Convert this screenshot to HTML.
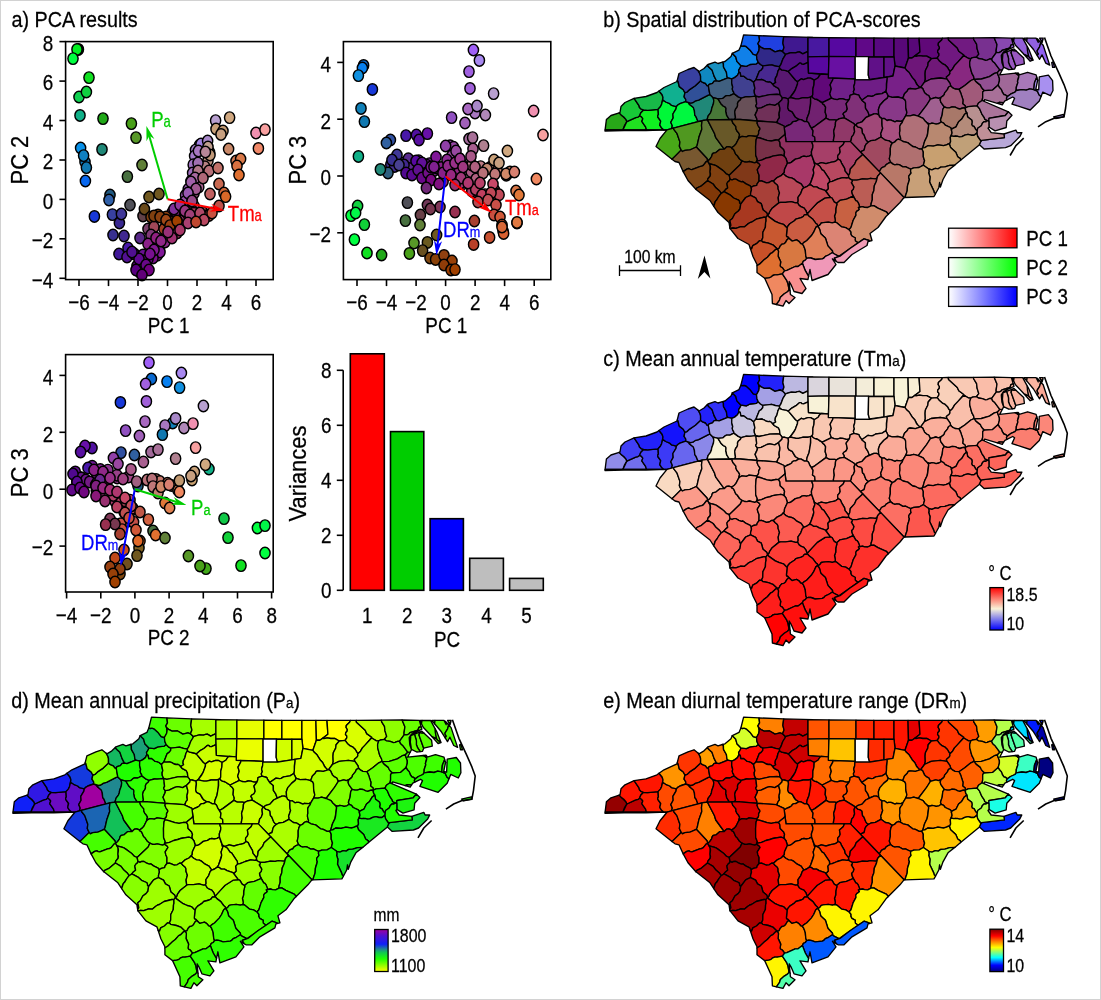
<!DOCTYPE html>
<html><head><meta charset="utf-8"><title>PCA climate figure</title>
<style>html,body{margin:0;padding:0;background:#fff}svg{display:block;will-change:transform}</style></head>
<body>
<svg width="1101" height="1000" viewBox="0 0 1101 1000" font-family="'Liberation Sans', sans-serif">
<rect x="0" y="0" width="1101" height="1000" fill="#fff"/>
<rect x="0.5" y="0.5" width="1100" height="999" fill="none" stroke="#d2d2d2" stroke-width="1"/>
<defs>
<linearGradient id="gR" x1="0" x2="1" y1="0" y2="0"><stop offset="0" stop-color="#fff"/><stop offset="1" stop-color="#ff0000"/></linearGradient>
<linearGradient id="gG" x1="0" x2="1" y1="0" y2="0"><stop offset="0" stop-color="#fff"/><stop offset="1" stop-color="#00ff00"/></linearGradient>
<linearGradient id="gB" x1="0" x2="1" y1="0" y2="0"><stop offset="0" stop-color="#fff"/><stop offset="1" stop-color="#0000ff"/></linearGradient>
<linearGradient id="gC" x1="0" x2="0" y1="1" y2="0"><stop offset="0" stop-color="#0000ff"/><stop offset="0.5" stop-color="#f8f2d8"/><stop offset="1" stop-color="#ff0000"/></linearGradient>
<linearGradient id="gD" x1="0" x2="0" y1="1" y2="0"><stop offset="0" stop-color="#ffff00"/><stop offset="0.3" stop-color="#20ff00"/><stop offset="0.45" stop-color="#10c850"/><stop offset="0.53" stop-color="#208890"/><stop offset="0.65" stop-color="#1020f8"/><stop offset="0.85" stop-color="#5010d0"/><stop offset="1" stop-color="#a000a0"/></linearGradient>
<linearGradient id="gE" x1="0" x2="0" y1="1" y2="0"><stop offset="0" stop-color="#000080"/><stop offset="0.15" stop-color="#0000ff"/><stop offset="0.33" stop-color="#00ffff"/><stop offset="0.45" stop-color="#80ff80"/><stop offset="0.57" stop-color="#ffff00"/><stop offset="0.71" stop-color="#ff8000"/><stop offset="0.84" stop-color="#ff0000"/><stop offset="1" stop-color="#800000"/></linearGradient>
<path id="k0" d="M624.6,125.3L626.8,121.7L626.1,119.6L619.2,112.8L611.0,115.5L606.4,119.5L605.1,129.9L622.9,129.9Z"/>
<path id="k1" d="M626.8,121.7L622.9,129.9L646.5,129.9L645.6,126.9L641.8,121.4L642.8,118.7L641.5,116.9L639.7,115.7L638.0,117.1L635.7,117.6Z"/>
<path id="k2" d="M623.8,117.0L626.1,119.6L626.8,121.7L635.7,117.6L638.0,117.1L639.7,115.7L640.7,113.0L643.6,110.0L641.1,109.1L639.5,107.5L639.0,105.6L634.1,98.3L625.0,102.5L621.0,106.5L620.0,112.5L619.2,112.8L621.2,115.1Z"/>
<path id="k3" d="M639.7,115.7L641.5,116.9L642.8,118.7L641.8,121.4L645.6,126.9L646.5,129.9L663.9,129.9L661.4,127.7L659.8,125.1L660.7,121.2L657.8,117.0L657.8,115.5L658.4,114.7L658.1,109.3L647.7,110.3L643.6,110.0L640.7,113.0Z"/>
<path id="k4" d="M662.1,94.7L659.0,91.0L657.0,92.5L646.0,96.5L634.1,98.3L639.0,105.6L639.5,107.5L641.1,109.1L643.6,110.0L647.7,110.3L658.1,109.3L660.4,106.8L661.6,104.4L663.0,97.5Z"/>
<path id="k5" d="M672.3,125.8L670.8,122.3L673.2,117.9L672.9,114.0L676.0,108.8L676.4,106.6L671.7,105.4L669.8,103.7L665.8,102.0L662.7,99.9L661.6,104.4L660.4,106.8L658.1,109.3L658.4,114.7L657.8,115.5L657.8,117.0L660.7,121.2L659.8,125.1L661.4,127.7L663.9,129.9L667.0,129.9L671.6,128.6Z"/>
<path id="k6" d="M680.0,103.7L685.8,101.7L685.8,99.5L684.1,96.9L684.9,92.7L683.3,89.7L679.3,86.6L677.9,81.0L677.2,80.6L677.0,81.5L664.0,87.5L659.0,91.0L662.1,94.7L663.0,97.5L662.7,99.9L665.8,102.0L669.8,103.7L671.7,105.4L676.4,106.6L677.8,105.0Z"/>
<path id="k7" d="M694.8,115.2L694.4,110.6L693.4,107.6L689.3,104.2L688.6,102.8L685.8,101.7L680.0,103.7L677.8,105.0L676.4,106.6L676.0,108.8L672.9,114.0L673.2,117.9L670.8,122.3L672.3,125.8L671.6,128.6L698.0,121.6L696.1,116.9Z"/>
<path id="k8" d="M708.2,115.8L710.5,112.8L711.4,110.6L711.7,108.4L713.4,103.8L713.8,100.6L713.2,97.7L709.9,94.6L708.3,95.1L698.6,100.1L695.6,100.8L692.8,102.7L690.6,103.2L688.6,102.8L689.3,104.2L693.4,107.6L694.4,110.6L694.8,115.2L696.1,116.9L698.0,121.6L704.0,120.1L707.0,119.9Z"/>
<path id="k9" d="M708.3,85.7L707.0,85.6L705.6,83.5L702.1,82.1L700.6,80.8L695.3,85.8L689.6,89.6L687.0,92.1L684.9,92.7L684.1,96.9L685.8,99.5L685.8,101.7L690.6,103.2L692.8,102.7L695.6,100.8L698.6,100.1L708.3,95.1L709.9,94.6Z"/>
<path id="k10" d="M679.3,86.6L683.3,89.7L684.9,92.7L687.0,92.1L689.6,89.6L695.3,85.8L700.6,80.8L700.6,76.3L700.1,74.2L698.3,70.9L694.0,67.5L688.0,69.5L679.0,73.5L677.2,80.6L677.9,81.0Z"/>
<path id="k11" d="M700.6,76.3L700.6,80.8L702.1,82.1L705.6,83.5L707.0,85.6L708.3,85.7L709.2,84.4L712.5,83.3L714.2,81.1L716.5,80.8L714.1,76.1L712.0,69.9L708.7,67.0L707.4,65.1L704.0,68.5L699.0,71.5L698.3,70.9L700.1,74.2Z"/>
<path id="k12" d="M712.0,69.9L714.1,76.1L716.5,80.8L719.1,81.4L727.8,77.8L727.0,76.7L726.4,72.2L723.5,67.0L723.4,63.2L722.4,62.2L718.0,63.5L715.0,62.1L708.0,64.5L707.4,65.1L708.7,67.0Z"/>
<path id="k13" d="M739.0,72.2L738.6,70.4L740.5,67.2L740.8,65.5L736.9,61.4L735.8,57.0L732.3,53.3L731.0,56.5L725.0,61.5L722.4,62.2L723.4,63.2L723.5,67.0L726.4,72.2L727.0,76.7L727.8,77.8L731.8,78.9L734.6,77.6L737.5,75.3Z"/>
<path id="k14" d="M712.5,83.3L709.2,84.4L708.3,85.7L709.9,94.6L713.2,97.7L718.0,98.8L722.7,98.4L725.0,96.4L726.6,95.6L729.9,95.7L734.0,93.6L732.3,88.9L732.7,87.0L731.7,83.2L731.8,78.9L727.8,77.8L719.1,81.4L716.5,80.8L714.2,81.1Z"/>
<path id="k15" d="M713.4,103.8L711.7,108.4L711.4,110.6L710.5,112.8L708.2,115.8L707.0,119.9L729.3,119.5L726.6,115.2L726.2,112.3L725.8,111.7L726.0,108.4L725.4,107.2L723.2,106.0L720.9,103.7L718.0,98.8L713.2,97.7L713.8,100.6Z"/>
<path id="k16" d="M734.0,93.6L729.9,95.7L726.6,95.6L725.0,96.4L722.7,98.4L718.0,98.8L720.9,103.7L723.2,106.0L725.4,107.2L726.0,108.4L725.8,111.7L726.2,112.3L726.6,115.2L729.3,119.5L734.7,119.5L735.5,117.6L734.7,111.9L735.6,109.0L737.1,107.1L737.6,105.4L737.5,103.4L738.4,101.5L740.3,99.9L741.3,98.1L738.3,96.9Z"/>
<path id="k17" d="M741.3,98.1L746.4,96.7L752.0,96.9L755.7,96.1L754.4,93.2L754.2,90.5L754.9,88.3L753.6,82.2L751.2,80.2L749.2,79.3L747.3,79.1L743.8,76.2L740.9,76.2L740.2,72.7L739.0,72.2L737.5,75.3L734.6,77.6L731.8,78.9L731.7,83.2L732.7,87.0L732.3,88.9L732.6,90.5L733.6,91.8L734.0,93.6L738.3,96.9Z"/>
<path id="k18" d="M756.0,79.6L759.3,71.3L761.2,70.1L762.8,68.0L762.9,65.8L760.5,64.5L758.2,62.3L756.4,63.8L750.0,64.5L746.3,66.3L740.8,65.5L740.5,67.2L738.6,70.4L739.0,72.2L740.2,72.7L740.9,76.2L743.8,76.2L747.3,79.1L749.2,79.3L751.2,80.2L753.6,82.2Z"/>
<path id="k19" d="M756.5,55.2L753.3,54.3L749.9,49.9L746.1,46.5L744.1,45.9L742.0,46.2L740.9,45.7L739.0,50.1L732.3,53.3L735.8,57.0L736.9,61.4L740.8,65.5L746.3,66.3L750.0,64.5L756.4,63.8L758.2,62.3L756.9,58.9Z"/>
<path id="k20" d="M746.1,46.5L749.9,49.9L753.3,54.3L756.5,55.2L758.8,50.9L759.2,48.3L758.8,45.6L757.9,43.5L759.6,40.5L759.0,35.6L743.6,34.9L740.9,45.7L742.0,46.2L744.1,45.9Z"/>
<path id="k21" d="M759.6,40.5L757.9,43.5L758.8,45.6L761.1,47.4L764.2,48.9L769.7,48.7L775.0,51.9L780.0,50.5L782.6,51.5L784.0,47.6L782.9,43.1L783.7,36.6L759.0,35.6Z"/>
<path id="k22" d="M780.0,50.5L775.0,51.9L769.7,48.7L764.2,48.9L761.1,47.4L758.8,45.6L759.2,48.3L758.8,50.9L756.5,55.2L756.9,58.9L758.2,62.3L760.5,64.5L762.9,65.8L771.6,64.8L777.4,66.6L779.5,66.7L780.9,64.4L782.8,59.2L785.3,55.2L785.4,54.3L782.6,51.5Z"/>
<path id="k23" d="M775.3,66.0L771.6,64.8L762.9,65.8L762.8,68.0L761.2,70.1L759.3,71.3L756.0,79.6L758.7,79.9L761.6,79.5L764.0,80.3L766.1,81.7L768.1,82.2L769.9,82.0L772.9,84.2L774.8,83.2L775.7,82.4L775.1,80.8L775.4,78.2L776.9,75.7L778.0,71.2L779.6,68.4L779.5,66.7Z"/>
<path id="k24" d="M768.1,82.2L766.1,81.7L764.0,80.3L761.6,79.5L758.7,79.9L756.0,79.6L753.6,82.2L754.9,88.3L754.2,90.5L754.4,93.2L755.8,96.2L758.9,97.0L769.8,94.6L776.9,94.2L780.0,94.9L779.5,90.5L778.4,88.4L774.2,86.0L771.2,82.7L769.9,82.0Z"/>
<path id="k25" d="M788.2,98.8L790.1,97.5L795.2,90.2L797.5,83.9L797.6,81.6L795.6,80.2L788.4,71.6L786.1,70.7L781.7,69.9L779.6,68.4L778.0,71.2L776.9,75.7L775.4,78.2L775.1,80.8L775.7,82.4L772.9,84.2L774.2,86.0L778.4,88.4L779.5,90.5L780.0,94.9L782.3,97.8L784.1,97.7Z"/>
<path id="k26" d="M782.9,43.1L784.0,47.6L782.6,51.5L785.4,54.3L791.5,52.6L795.6,52.9L797.6,52.1L799.4,51.9L802.8,53.9L806.9,51.8L808.0,52.0L808.0,37.3L812.7,37.3L783.7,36.6Z"/>
<path id="k27" d="M782.8,59.2L780.9,64.4L779.5,66.7L779.6,68.4L781.7,69.9L786.1,70.7L788.4,71.6L791.8,68.6L796.0,66.2L799.4,63.2L800.9,63.1L801.9,64.2L803.6,64.4L808.1,62.4L808.0,52.0L806.9,51.8L802.8,53.9L799.4,51.9L797.6,52.1L795.6,52.9L791.5,52.6L789.6,53.0L785.4,54.3L785.3,55.2Z"/>
<path id="k28" d="M808.1,62.4L803.6,64.4L801.9,64.2L800.9,63.1L799.4,63.2L796.0,66.2L791.8,68.6L788.4,71.6L795.6,80.2L797.6,81.6L801.4,78.8L803.5,79.6L807.8,78.1L810.6,78.2L814.2,80.2L818.2,77.7L819.7,75.2L821.4,74.0L808.5,73.0Z"/>
<path id="k29" d="M797.5,83.9L795.2,90.2L793.8,92.7L790.1,97.5L796.0,98.8L798.6,98.8L803.2,97.7L808.3,97.7L810.6,97.2L812.0,96.4L812.8,94.8L812.9,88.8L814.0,84.5L814.2,80.2L810.6,78.2L807.8,78.1L803.5,79.6L801.4,78.8L797.6,81.6Z"/>
<path id="k30" d="M749.1,96.9L746.4,96.7L741.3,98.1L740.3,99.9L738.4,101.5L737.5,103.4L737.6,105.4L737.1,107.1L735.6,109.0L734.7,111.9L735.5,117.6L734.7,119.5L740.0,119.5L756.5,120.9L757.0,119.2L755.1,114.9L757.3,110.1L757.4,108.3L756.0,106.6L755.8,105.6L756.7,104.0L756.3,100.4L756.5,98.7L755.8,96.2Z"/>
<path id="k31" d="M755.8,96.2L756.7,104.0L755.8,105.6L756.0,106.6L757.4,108.3L759.0,108.4L761.1,107.9L766.9,105.0L769.8,104.4L774.8,105.3L778.6,103.1L781.9,99.8L782.3,97.8L780.0,94.9L778.1,94.3L769.8,94.6L758.9,97.0Z"/>
<path id="k32" d="M755.1,114.9L757.0,119.2L756.5,120.9L776.0,122.3L776.9,122.7L777.0,121.6L779.4,117.7L779.5,116.7L778.9,115.2L779.9,108.2L778.6,103.1L774.8,105.3L769.8,104.4L766.9,105.0L761.1,107.9L757.4,108.3L757.3,110.1Z"/>
<path id="k33" d="M779.8,110.5L779.1,113.0L779.4,117.7L778.1,119.2L776.9,122.7L784.0,126.0L784.2,127.7L786.7,126.0L789.9,124.7L791.7,123.5L792.4,122.1L797.4,120.7L799.0,119.4L795.6,117.3L794.6,116.3L792.2,111.9L788.7,110.1L787.8,107.7L788.5,101.6L788.2,98.8L784.1,97.7L782.3,97.8L781.9,99.8L778.6,103.1L779.9,108.2Z"/>
<path id="k34" d="M788.5,101.6L787.8,107.7L788.7,110.1L792.2,111.9L795.6,117.3L799.0,119.4L801.2,119.7L804.5,121.6L806.6,121.4L807.1,118.0L809.1,112.9L810.4,105.7L810.6,97.2L808.3,97.7L803.2,97.7L798.6,98.8L796.0,98.8L790.1,97.5L788.2,98.8Z"/>
<path id="k35" d="M810.6,97.2L810.7,103.2L809.1,112.9L807.1,118.0L806.6,121.4L808.4,122.5L810.0,126.2L811.6,128.2L814.9,126.3L826.0,118.1L826.4,115.7L825.2,112.3L825.6,107.1L824.2,104.9L822.6,103.7L822.3,102.7L820.2,101.7L818.4,100.1L814.5,98.8L812.9,97.7L812.0,96.4Z"/>
<path id="k36" d="M814.7,137.0L812.5,135.5L813.1,130.9L810.0,126.2L808.4,122.5L806.6,121.4L804.5,121.6L801.2,119.7L799.0,119.4L795.7,121.4L793.8,121.4L792.4,122.1L791.7,123.5L789.9,124.7L786.7,126.0L784.2,127.7L786.0,141.6L815.1,141.6Z"/>
<path id="k37" d="M808.0,56.8L829.0,56.4L829.0,37.6L808.0,37.3Z"/>
<path id="k38" d="M808.5,73.0L828.5,74.5L829.0,56.4L808.0,56.8Z"/>
<path id="k39" d="M679.4,146.2L679.9,141.9L676.9,133.3L674.0,129.7L673.4,128.1L667.0,129.9L660.0,138.5L656.0,146.5L672.0,159.2L675.7,156.0L681.2,150.1ZM667.0,129.9L605.1,129.9L605.0,131.1L624.0,130.5L646.0,130.5Z"/>
<path id="k40" d="M674.0,129.7L676.9,133.3L679.9,141.9L679.4,146.2L681.2,150.1L682.4,151.5L684.9,150.3L689.9,149.9L692.2,149.1L696.3,147.0L697.2,145.2L699.0,137.1L701.8,129.3L701.5,125.3L702.1,120.6L673.4,128.1Z"/>
<path id="k41" d="M712.4,153.9L713.4,153.1L715.9,152.6L719.6,149.4L724.2,149.2L715.8,137.7L714.4,133.2L707.5,119.9L702.1,120.6L701.5,125.3L701.8,129.3L699.0,137.1L697.2,145.2L696.3,147.0L707.0,158.5L707.8,160.7L709.7,159.4L711.6,156.5Z"/>
<path id="k42" d="M731.7,147.7L734.3,145.8L736.0,143.9L738.6,138.7L739.6,134.8L738.6,132.9L736.8,130.8L735.9,128.6L735.9,126.6L732.7,122.8L731.7,119.5L707.5,119.9L714.4,133.2L715.8,137.7L724.2,149.2L726.5,146.9L728.8,146.6Z"/>
<path id="k43" d="M742.0,136.4L746.4,136.9L749.1,135.6L756.7,136.5L758.2,134.9L758.7,133.3L758.6,131.6L760.0,128.9L757.1,123.2L757.4,121.0L740.0,119.5L731.7,119.5L732.7,122.8L735.9,126.6L735.9,128.6L736.8,130.8L738.6,132.9L739.6,134.8L738.6,138.7L740.0,137.3Z"/>
<path id="k44" d="M759.7,127.8L760.0,128.9L758.6,131.6L758.7,133.3L758.2,134.9L756.7,136.5L757.0,137.5L760.0,138.0L767.0,140.4L771.2,141.0L775.9,140.0L778.7,140.2L779.3,139.2L784.3,135.1L785.0,133.9L784.0,126.0L776.0,122.3L757.4,121.0L757.1,123.2L758.1,125.8Z"/>
<path id="k45" d="M681.2,150.1L672.0,159.2L675.0,161.5L679.0,162.5L683.2,171.6L686.8,169.1L688.9,168.5L690.2,169.3L691.9,169.6L699.7,166.6L701.8,166.2L703.3,165.3L706.3,161.5L707.7,161.3L707.0,158.5L696.3,147.0L689.9,149.9L684.9,150.3L682.4,151.5Z"/>
<path id="k46" d="M714.3,164.9L717.6,166.6L722.8,170.4L726.2,173.8L729.2,175.2L740.3,164.6L742.0,160.9L739.6,159.0L737.2,155.5L735.7,154.2L734.0,150.2L732.9,148.8L731.9,148.6L731.7,147.7L728.8,146.6L726.5,146.9L724.2,149.2L719.6,149.4L715.9,152.6L713.4,153.1L712.4,153.9L711.6,156.5L709.7,159.4L707.8,160.7L707.7,161.3L709.2,163.6Z"/>
<path id="k47" d="M749.4,161.5L754.7,162.8L755.9,162.3L756.9,161.1L757.3,159.3L755.7,155.2L755.6,146.1L756.1,139.8L757.0,137.5L756.7,136.5L749.1,135.6L746.4,136.9L742.0,136.4L740.0,137.3L738.6,138.7L736.0,143.9L734.3,145.8L731.7,147.7L731.9,148.6L732.9,148.8L734.0,150.2L735.7,154.2L737.2,155.5L739.6,159.0L742.0,160.9L744.6,162.0L746.9,162.1Z"/>
<path id="k48" d="M755.6,146.1L755.7,155.2L757.3,159.3L756.9,161.1L761.6,160.1L765.9,158.2L774.9,155.6L780.9,154.8L784.4,156.4L784.2,154.3L784.6,151.9L783.7,149.6L780.2,146.2L779.9,142.4L778.7,140.2L775.9,140.0L771.2,141.0L767.0,140.4L760.0,138.0L757.0,137.5L756.1,139.8Z"/>
<path id="k49" d="M779.3,139.2L778.7,140.2L779.9,142.4L780.2,146.2L783.7,149.6L784.6,151.9L784.2,154.3L784.4,156.4L786.1,158.7L787.4,163.2L789.7,163.0L791.2,162.4L795.4,159.1L799.7,158.1L801.9,156.6L803.9,156.2L806.3,156.7L809.1,156.1L811.6,154.8L811.4,151.7L812.8,147.5L812.9,145.2L811.7,141.6L786.0,141.6L785.0,133.9L784.3,135.1Z"/>
<path id="k50" d="M701.5,185.8L707.5,180.7L707.9,178.8L710.2,176.0L710.2,165.7L707.7,161.3L706.3,161.5L703.3,165.3L701.8,166.2L699.7,166.6L691.9,169.6L690.2,169.3L688.9,168.5L686.8,169.1L683.2,171.6L688.0,180.5L695.9,189.4L696.8,188.0Z"/>
<path id="k51" d="M725.7,189.4L727.7,187.9L726.9,183.5L728.1,181.7L729.5,180.6L730.1,179.1L729.2,175.2L726.2,173.8L723.9,171.2L716.1,165.6L709.2,163.6L710.2,165.7L710.5,167.9L710.0,171.9L710.5,174.0L710.2,176.0L707.9,178.8L707.5,180.7L713.1,184.0L715.9,187.8L719.6,191.0L721.2,193.4L722.7,192.8Z"/>
<path id="k52" d="M736.1,179.2L738.8,180.9L741.4,181.8L742.8,181.5L745.6,183.6L750.2,185.8L751.2,187.3L753.4,186.0L756.8,185.3L757.1,183.9L759.0,181.2L759.1,175.2L757.8,172.1L757.3,169.6L760.1,165.1L758.9,163.4L757.2,162.4L756.9,161.2L755.9,162.3L754.7,162.8L749.4,161.5L746.9,162.1L744.6,162.0L742.0,160.9L740.3,164.6L729.2,175.2L730.1,179.1L732.0,180.0L733.9,179.1Z"/>
<path id="k53" d="M780.9,154.8L772.6,156.2L769.9,157.3L765.9,158.2L761.6,160.1L756.9,161.1L757.2,162.4L758.9,163.4L760.1,165.1L757.3,169.6L757.8,172.1L759.1,175.2L759.0,181.2L761.6,180.9L766.4,182.9L769.2,182.5L771.5,181.0L773.5,181.0L777.1,177.6L781.1,175.7L784.3,172.5L784.5,169.5L787.4,163.2L786.1,158.7L784.4,156.4L782.8,155.4Z"/>
<path id="k54" d="M814.9,164.9L811.6,154.8L809.1,156.1L806.3,156.7L803.9,156.2L801.9,156.6L799.7,158.1L795.4,159.1L791.2,162.4L789.7,163.0L787.4,163.2L784.5,169.5L784.3,172.5L783.2,173.6L786.1,176.2L788.7,177.5L791.5,177.8L793.9,179.1L796.3,181.3L801.1,183.8L803.8,187.8L806.7,186.7L809.4,184.8L810.7,182.7L813.8,172.9L813.2,169.6Z"/>
<path id="k55" d="M714.8,202.3L721.2,193.4L719.6,191.0L715.9,187.8L713.1,184.0L707.5,180.7L701.5,185.8L696.8,188.0L696.0,189.5L710.0,200.5L713.8,206.3Z"/>
<path id="k56" d="M745.7,197.5L750.6,195.3L750.6,193.1L751.5,189.9L751.2,187.3L750.2,185.8L745.6,183.6L742.8,181.5L741.4,181.8L738.8,180.9L736.1,179.2L733.9,179.1L732.0,180.0L730.1,179.1L729.5,180.6L728.1,181.7L726.9,183.5L727.7,187.9L725.7,189.4L724.0,191.6L730.0,194.8L733.6,198.0L738.6,200.2L739.5,201.4L739.6,203.1L740.7,204.2Z"/>
<path id="k57" d="M730.9,225.3L729.9,220.5L732.4,218.5L734.9,213.7L738.1,211.3L740.0,209.0L740.7,204.2L739.6,203.1L739.5,201.4L738.6,200.2L733.6,198.0L730.0,194.8L724.0,191.6L721.2,193.4L718.7,196.5L716.7,200.0L715.4,201.2L713.8,206.3L718.0,212.5L729.0,222.5L729.8,227.5Z"/>
<path id="k58" d="M778.2,197.6L779.5,192.9L778.1,188.9L778.1,186.6L777.2,184.7L775.0,183.0L773.5,181.0L771.5,181.0L769.2,182.5L766.4,182.9L761.6,180.9L759.0,181.2L757.1,183.9L756.8,185.3L753.4,186.0L751.2,187.3L751.5,189.9L750.6,193.1L750.6,195.3L755.6,197.8L757.5,201.6L761.3,203.7L763.0,209.7L766.7,212.7L767.5,215.1L769.2,213.6L769.5,212.1L772.2,208.2L778.8,202.9Z"/>
<path id="k59" d="M798.0,197.3L800.8,193.3L802.3,189.3L803.8,187.8L801.1,183.8L796.3,181.3L793.9,179.1L791.5,177.8L788.7,177.5L786.1,176.2L783.2,173.6L781.1,175.7L777.1,177.6L773.5,181.0L775.0,183.0L777.2,184.7L778.1,186.6L778.1,188.9L779.5,192.9L778.2,197.6L778.8,202.9L780.6,202.3L785.5,202.3L791.1,201.6L795.5,202.9L797.5,202.7L798.2,201.1Z"/>
<path id="k60" d="M766.7,212.7L763.0,209.7L761.3,203.7L757.5,201.6L755.6,197.8L750.6,195.3L748.1,196.3L745.7,197.5L740.7,204.2L740.0,209.0L738.1,211.3L734.9,213.7L732.4,218.5L729.9,220.5L730.9,225.3L729.8,227.5L730.0,228.5L732.9,228.0L735.9,228.4L740.8,226.6L744.3,226.9L747.9,223.9L749.8,222.7L751.5,222.2L756.2,219.2L764.1,217.2L766.0,217.3L767.5,215.1Z"/>
<path id="k61" d="M829.0,56.4L856.0,56.6L856.0,37.9L829.0,37.6Z"/>
<path id="k62" d="M856.0,56.6L874.0,56.8L874.0,38.0L856.0,37.9Z"/>
<path id="k63" d="M874.0,56.8L894.0,57.0L894.0,38.1L874.0,38.0Z"/>
<path id="k64" d="M894.0,57.0L895.0,66.0L905.0,68.0L908.5,58.0L908.1,38.1L894.0,38.1Z"/>
<path id="k65" d="M908.5,58.0L912.0,58.0L920.0,52.0L919.1,38.1L908.0,38.1Z"/>
<path id="k66" d="M916.0,56.4L919.3,55.6L922.9,56.2L926.7,56.1L931.4,58.7L937.2,58.1L938.9,55.5L938.9,53.6L937.6,52.2L937.8,50.5L939.3,48.7L939.4,47.0L938.2,45.2L938.4,43.1L941.7,40.0L942.5,38.1L919.1,38.1L920.0,52.0L914.9,55.9Z"/>
<path id="k67" d="M954.5,65.6L957.6,62.6L963.9,55.0L958.8,51.3L957.3,48.0L948.6,40.0L948.2,38.0L942.5,38.1L941.7,40.0L938.4,43.1L938.2,45.2L939.4,47.0L939.3,48.7L937.8,50.5L937.6,52.2L938.9,53.6L938.9,55.5L937.2,58.1L939.4,61.1L942.3,63.6L945.1,64.9L947.4,67.2L949.0,70.1L950.3,71.2L952.6,68.9Z"/>
<path id="k68" d="M948.6,40.0L957.3,48.0L958.8,51.3L963.9,55.0L963.7,55.7L968.6,58.5L970.8,58.6L972.5,57.7L976.4,57.1L978.8,54.1L977.1,48.6L976.6,44.1L973.8,39.5L973.4,37.9L948.2,38.0Z"/>
<path id="k69" d="M996.1,50.9L997.0,44.5L994.2,37.7L973.4,37.9L973.8,39.5L976.6,44.1L977.1,48.6L978.8,54.1L976.4,57.1L978.4,58.5L982.3,59.1L985.5,60.3L987.2,60.1L989.6,59.0L991.7,58.9L996.4,52.4Z"/>
<path id="k70" d="M1002.0,50.4L1010.1,47.8L1010.9,45.2L1013.2,44.3L1011.4,38.1L994.2,37.7L997.0,44.5L996.1,50.9L996.4,52.4L999.0,52.6L1001.0,51.7ZM1012.0,38.2L1013.6,41.4L1014.1,38.2Z"/>
<path id="k71" d="M828.3,78.0L855.2,79.0L855.2,57.0L856.0,56.6L829.0,56.4Z"/>
<path id="k72" d="M855.2,56.6L868.6,56.7L868.3,75.0L869.8,79.8L855.2,79.8Z"/>
<path id="k73" d="M868.3,75.0L869.5,79.5L884.0,77.5L884.0,57.0L868.6,57.0Z"/>
<path id="k74" d="M884.0,77.5L893.0,76.0L895.0,66.0L894.0,57.0L884.0,57.0Z"/>
<path id="k75" d="M906.3,70.0L909.1,72.5L912.1,77.4L914.7,80.2L917.9,86.0L919.7,87.4L920.7,87.3L924.5,82.2L925.3,79.4L925.1,73.8L925.4,70.5L927.8,65.8L928.2,62.5L931.4,58.7L926.7,56.1L922.9,56.2L919.3,55.6L916.0,56.4L914.9,55.9L912.0,58.0L908.5,58.0L905.0,68.0Z"/>
<path id="k76" d="M928.2,62.5L927.8,65.8L925.4,70.5L925.1,73.8L925.3,79.4L924.5,82.2L931.1,79.0L940.4,78.0L947.0,79.1L946.4,77.1L949.2,74.7L950.0,73.3L949.7,72.3L950.3,71.2L949.0,70.1L947.4,67.2L945.1,64.9L942.3,63.6L939.4,61.1L937.2,58.1L931.4,58.7Z"/>
<path id="k77" d="M950.7,86.0L952.8,87.9L955.0,89.0L959.0,89.4L964.8,85.5L970.9,80.5L974.2,79.1L973.6,76.4L971.8,73.1L969.8,65.6L969.7,62.3L970.8,58.6L968.6,58.5L963.7,55.7L954.5,65.6L952.6,68.9L950.3,71.2L949.7,72.3L950.0,73.3L949.2,74.7L946.4,77.1L947.0,79.1L950.0,83.4Z"/>
<path id="k78" d="M969.8,65.6L971.8,73.1L973.6,76.4L974.2,79.1L974.8,79.4L981.4,79.0L989.4,76.6L994.4,73.4L997.3,72.7L999.8,69.9L994.8,63.1L992.6,61.2L991.7,58.9L989.6,59.0L987.2,60.1L985.5,60.3L982.3,59.1L978.4,58.5L976.4,57.1L972.5,57.7L970.8,58.6L969.7,62.3Z"/>
<path id="k79" d="M892.2,97.4L897.9,97.0L902.8,98.3L904.5,93.7L907.3,90.9L908.2,89.2L910.1,88.5L915.4,89.1L918.1,88.4L919.7,87.4L916.6,84.2L914.7,80.2L912.1,77.4L909.1,72.5L906.3,70.0L905.0,68.0L895.0,66.1L893.0,76.0L886.9,77.1L886.4,88.4L885.8,91.2L888.2,96.1Z"/>
<path id="k80" d="M816.6,99.2L822.3,102.7L831.5,98.1L829.8,93.8L831.3,88.9L830.1,84.8L832.8,79.8L832.9,78.2L828.3,78.0L828.4,74.5L821.4,74.0L819.7,75.2L818.2,77.7L814.2,80.2L814.0,84.5L812.9,88.8L812.8,94.8L812.0,96.4L812.9,97.7L814.5,98.8Z"/>
<path id="k81" d="M840.2,98.7L843.0,98.9L846.1,99.8L849.1,99.7L849.9,97.4L850.1,95.3L854.0,93.8L853.4,91.5L854.4,89.4L853.7,86.7L854.7,83.5L855.0,79.0L832.9,78.2L832.8,79.8L830.1,84.8L831.3,88.9L829.8,93.8L830.6,96.0L831.5,98.1L834.1,99.2L837.2,99.6Z"/>
<path id="k82" d="M886.4,83.8L887.1,78.5L886.9,77.1L869.8,79.8L855.2,79.8L855.0,79.0L854.7,83.5L853.7,86.7L854.4,89.4L853.4,91.5L854.0,93.8L858.9,95.2L859.8,97.4L861.8,100.2L868.1,95.8L871.6,96.4L873.2,96.0L875.7,94.5L882.1,93.6L885.8,91.2L886.4,88.4Z"/>
<path id="k83" d="M924.6,92.8L926.6,94.6L928.7,95.5L930.4,99.1L935.8,97.5L938.4,98.3L941.1,97.3L943.4,95.6L944.4,94.3L944.5,93.1L947.4,89.6L948.6,87.0L950.7,86.0L950.0,83.4L947.0,79.1L940.4,78.0L931.1,79.0L924.5,82.2L920.7,87.3L922.6,88.4Z"/>
<path id="k84" d="M982.7,97.6L982.7,92.1L984.1,90.7L984.0,90.0L982.8,89.1L980.4,85.1L977.1,82.7L974.2,79.1L970.9,80.5L964.8,85.5L959.0,89.4L960.6,92.6L963.0,99.9L962.7,103.7L965.2,105.7L965.3,107.9L968.2,106.6L977.1,105.8L978.5,103.0L982.1,100.5Z"/>
<path id="k85" d="M984.1,90.7L992.6,90.1L998.2,85.1L999.4,80.9L999.4,78.3L997.3,72.7L994.4,73.4L989.4,76.6L981.4,79.0L974.8,79.4L975.4,81.1L980.4,85.1L981.2,87.0L982.8,89.1L984.0,90.0Z"/>
<path id="k86" d="M999.4,80.9L998.2,85.1L999.2,87.2L1001.4,89.6L1002.3,92.2L1003.9,94.5L1005.8,95.2L1007.3,96.6L1010.5,94.2L1015.0,92.2L1016.2,90.5L1016.3,87.2L1017.9,82.5L1017.5,81.2L1018.8,75.9L1017.8,74.6L1015.4,73.2L999.7,74.9L1002.4,69.7L999.8,69.9L997.3,72.7L999.4,78.3Z"/>
<path id="k87" d="M1018.7,77.6L1017.5,81.2L1017.9,82.5L1016.3,87.2L1016.2,90.5L1021.9,89.7L1026.1,90.2L1029.8,88.8L1033.8,89.6L1034.5,82.8L1036.8,77.3L1036.1,74.9L1027.6,72.3L1019.2,74.9L1018.7,73.4L1017.8,74.6L1018.8,75.9Z"/>
<path id="k88" d="M1007.3,96.6L1005.8,95.2L1003.9,94.5L1002.3,92.2L1001.4,89.6L999.2,87.2L998.2,85.1L992.6,90.1L984.1,90.7L982.7,92.1L982.7,97.6L982.1,100.5L984.1,101.2L984.7,99.6L997.4,103.3L999.4,102.3L1003.6,102.7L1004.9,100.9L1006.9,99.8L1006.5,98.0Z"/>
<path id="k89" d="M1037.4,91.1L1033.8,89.6L1029.8,88.8L1026.1,90.2L1021.9,89.7L1016.2,90.5L1015.0,92.2L1010.5,94.2L1007.3,96.6L1006.5,98.0L1006.6,99.3L1006.9,99.8L1012.7,97.0L1014.6,98.3L1012.0,104.1L1030.2,110.0L1039.3,100.9L1041.1,96.4L1039.0,94.7Z"/>
<path id="k90" d="M829.4,119.8L834.8,119.9L836.4,120.4L839.5,118.7L844.3,117.8L844.2,115.8L843.0,114.2L843.6,113.0L846.1,111.4L847.3,108.9L846.1,103.7L849.1,99.7L846.1,99.8L843.0,98.9L840.2,98.7L837.2,99.6L834.1,99.2L831.5,98.1L822.3,102.7L822.6,103.7L824.2,104.9L825.6,107.1L825.2,112.3L826.4,115.7L826.0,118.1Z"/>
<path id="k91" d="M857.4,123.3L862.1,121.8L865.7,117.7L869.3,115.7L868.0,111.9L865.5,108.1L865.4,103.2L861.8,100.2L859.8,97.4L858.9,95.2L854.0,93.8L850.1,95.3L849.9,97.4L849.1,99.7L846.1,103.7L847.3,108.9L846.1,111.4L843.6,113.0L843.0,114.2L844.2,115.8L844.3,117.8L853.7,123.5L855.0,125.0L855.9,125.0Z"/>
<path id="k92" d="M885.8,91.2L882.1,93.6L875.7,94.5L873.2,96.0L871.6,96.4L868.1,95.8L861.8,100.2L865.4,103.2L865.5,108.1L868.0,111.9L869.3,115.7L874.0,113.8L876.6,113.9L878.7,114.9L878.4,109.5L879.9,105.3L883.9,100.8L887.3,98.1L888.2,96.1Z"/>
<path id="k93" d="M906.9,112.5L905.8,107.6L905.6,101.2L904.8,99.6L902.8,98.3L897.9,97.0L892.2,97.4L888.2,96.1L887.3,98.1L883.9,100.8L879.9,105.3L878.4,109.5L878.7,114.9L879.6,116.9L881.9,118.6L884.3,118.5L887.0,120.5L888.7,120.0L891.0,120.1L895.0,121.8L896.5,121.0L901.0,121.3L903.0,120.3L906.5,114.4Z"/>
<path id="k94" d="M926.6,94.6L924.6,92.8L922.6,88.4L920.7,87.3L915.4,89.1L910.1,88.5L908.2,89.2L907.3,90.9L904.5,93.7L902.8,98.3L904.8,99.6L905.6,101.2L905.8,107.6L906.9,112.5L905.8,115.7L910.1,115.8L913.7,114.9L918.2,116.2L928.0,103.4L930.4,99.1L928.7,95.5Z"/>
<path id="k95" d="M926.4,105.3L918.2,116.2L923.1,118.3L924.8,120.7L927.4,123.2L929.9,123.9L931.9,123.2L936.1,124.1L939.0,123.5L941.3,122.0L940.5,120.0L942.2,114.8L942.8,109.3L944.3,107.0L940.8,102.1L940.2,99.8L941.1,97.3L938.4,98.3L935.8,97.5L930.4,99.1Z"/>
<path id="k96" d="M952.1,106.9L955.2,107.2L957.9,108.5L959.9,109.0L961.6,108.2L963.4,107.9L965.1,108.2L965.3,107.9L965.2,105.7L962.7,103.7L963.0,99.9L960.6,92.6L959.0,89.4L955.0,89.0L952.8,87.9L950.7,86.0L948.6,87.0L947.4,89.6L944.5,93.1L944.4,94.3L943.4,95.6L941.1,97.3L940.2,99.8L940.8,102.1L944.3,107.0L947.1,107.8L949.4,107.8Z"/>
<path id="k97" d="M945.2,125.2L950.4,127.5L951.5,129.0L951.4,129.7L952.4,128.6L956.0,126.9L958.6,121.7L961.7,119.1L964.4,114.6L966.8,112.6L965.7,110.8L965.1,108.2L963.4,107.9L959.9,109.0L957.9,108.5L955.2,107.2L952.1,106.9L949.4,107.8L947.1,107.8L944.3,107.0L942.8,109.3L942.2,114.8L940.5,120.0L941.3,122.0L943.6,123.1Z"/>
<path id="k98" d="M966.8,112.6L967.7,117.0L971.7,120.0L972.1,122.0L971.7,124.5L972.4,125.8L974.0,126.4L975.7,129.4L977.1,130.8L977.7,128.2L981.3,125.7L982.5,123.1L984.0,121.7L986.0,121.7L986.9,120.6L984.7,119.2L984.3,117.6L981.9,114.1L979.5,108.6L977.1,105.8L968.2,106.6L965.3,107.9L965.7,110.8Z"/>
<path id="k99" d="M981.9,114.1L984.3,117.6L984.7,119.2L988.9,121.4L989.1,118.1L1005.3,115.5L1008.4,111.8L982.1,100.5L978.5,103.0L977.1,105.8L979.5,108.6ZM999.4,102.3L997.4,103.3L1002.3,104.8L1003.6,102.7Z"/>
<path id="k100" d="M988.9,118.4L988.9,127.0L995.1,130.8L1006.2,127.5L1006.8,121.0L1012.0,115.2L1008.4,111.8L1005.3,115.5Z"/>
<path id="k101" d="M979.2,144.5L984.1,149.0L1005.5,147.7L1010.7,145.7L1019.8,136.6L1021.8,132.7L1017.2,132.7L1015.9,130.1L1003.9,134.0L1004.4,137.6L981.3,140.4Z"/>
<path id="k102" d="M988.9,121.4L986.9,120.6L986.0,121.7L984.0,121.7L982.5,123.1L981.3,125.7L977.7,128.2L976.8,133.1L977.7,136.5L980.9,141.2L981.4,140.4L1004.4,137.6L1003.9,134.0L991.2,132.7L988.0,128.2L989.0,127.1Z"/>
<path id="k103" d="M826.0,118.1L814.9,126.3L811.6,128.2L813.1,130.9L812.5,135.5L814.7,137.0L815.1,141.6L833.6,141.6L833.4,140.2L834.3,135.6L833.7,131.0L835.3,125.9L835.5,122.3L836.4,120.4L834.8,119.9L829.4,119.8Z"/>
<path id="k104" d="M851.7,136.9L853.4,134.8L854.6,131.8L854.1,127.3L855.0,125.0L853.7,123.5L844.3,117.8L839.5,118.7L836.4,120.4L835.5,122.3L835.3,125.9L833.7,131.0L834.3,135.6L833.4,140.2L833.6,141.6L850.1,141.6L851.1,140.4Z"/>
<path id="k105" d="M854.1,127.3L854.6,131.8L853.4,134.8L851.7,136.9L851.1,140.4L850.1,141.6L860.7,152.3L861.4,151.3L864.1,150.2L865.1,146.0L866.0,144.3L868.5,142.0L866.9,140.9L865.7,139.3L863.9,134.6L862.5,133.2L862.1,128.9L860.6,127.6L857.7,126.8L855.9,125.0L855.0,125.0Z"/>
<path id="k106" d="M875.4,140.1L881.0,137.0L881.2,135.5L880.7,133.9L882.7,128.2L881.8,123.6L881.9,118.6L879.6,116.9L878.7,114.9L876.6,113.9L874.0,113.8L865.7,117.7L862.1,121.8L857.4,123.3L855.9,125.0L857.7,126.8L860.6,127.6L862.1,128.9L862.5,133.2L863.9,134.6L865.7,139.3L866.9,140.9L868.5,142.0L871.0,140.7Z"/>
<path id="k107" d="M882.1,126.1L882.7,128.2L880.7,133.9L881.2,135.5L881.0,137.0L885.4,140.2L889.1,140.9L892.3,143.1L893.7,142.7L896.6,140.0L898.3,139.2L900.3,139.8L900.7,138.5L899.6,134.4L900.0,130.9L899.8,126.3L900.7,124.3L902.2,122.6L903.0,120.3L901.0,121.3L896.5,121.0L895.0,121.8L891.0,120.1L888.7,120.0L887.0,120.5L884.3,118.5L881.9,118.6Z"/>
<path id="k108" d="M913.7,114.9L910.1,115.8L905.8,115.7L903.0,120.3L902.2,122.6L900.7,124.3L899.8,126.3L900.0,130.9L899.5,132.5L899.6,134.4L900.7,138.5L900.3,139.8L903.0,141.5L907.7,142.6L912.7,146.5L915.4,147.0L919.2,149.0L921.9,148.8L922.8,147.8L924.6,141.4L927.1,136.3L928.7,125.4L928.3,124.0L924.8,120.7L923.1,118.3L918.2,116.2Z"/>
<path id="k109" d="M927.8,145.7L933.2,146.1L937.9,144.9L943.5,145.7L946.5,144.9L948.5,143.8L949.5,144.4L950.6,141.6L950.3,137.2L952.1,132.9L951.2,129.5L951.5,129.0L950.4,127.5L945.2,125.2L943.6,123.1L941.3,122.0L939.0,123.5L936.1,124.1L933.7,123.3L931.9,123.2L929.9,123.9L927.4,123.2L928.3,124.0L928.7,125.4L927.7,133.7L927.1,136.3L924.6,141.4L922.8,147.8L924.8,147.6Z"/>
<path id="k110" d="M955.5,136.0L959.4,136.8L961.9,136.6L964.8,135.1L968.0,134.4L971.1,135.2L974.1,135.2L976.8,133.1L977.1,130.8L975.7,129.4L974.0,126.4L972.4,125.8L971.7,124.5L972.1,122.0L971.7,120.0L967.7,117.0L966.8,112.6L964.4,114.6L961.7,119.1L958.6,121.7L956.0,126.9L952.4,128.6L951.4,129.7L952.1,132.9L951.2,135.8L953.8,136.4Z"/>
<path id="k111" d="M955.8,152.2L957.7,156.7L960.4,158.6L960.6,160.3L979.2,144.9L980.9,141.2L977.7,136.5L976.8,133.1L974.1,135.2L971.1,135.2L968.0,134.4L964.8,135.1L961.9,136.6L959.4,136.8L957.3,136.1L953.8,136.4L951.2,135.8L950.3,137.2L950.6,141.6L949.5,144.4L950.6,147.4Z"/>
<path id="k112" d="M883.6,166.8L884.7,166.7L886.2,164.6L888.8,163.0L890.8,162.4L889.3,158.8L890.3,154.3L890.3,148.5L891.0,145.4L892.3,143.1L889.1,140.9L885.4,140.2L881.0,137.0L875.4,140.1L871.0,140.7L868.5,142.0L866.0,144.3L865.1,146.0L864.1,150.2L861.4,151.3L860.7,152.3L879.3,171.7L881.5,168.0Z"/>
<path id="k113" d="M890.3,148.5L890.3,154.3L889.3,158.8L890.8,162.4L893.0,164.1L894.9,164.8L896.9,164.3L899.2,164.7L902.9,166.8L905.4,166.6L908.0,168.1L910.7,169.1L913.8,167.8L919.1,167.5L923.4,165.2L924.6,160.7L923.3,156.7L923.3,151.8L921.9,148.8L919.2,149.0L915.4,147.0L912.7,146.5L907.7,142.6L903.0,141.5L900.3,139.8L898.3,139.2L896.6,140.0L895.0,141.8L892.3,143.1L891.0,145.4Z"/>
<path id="k114" d="M923.3,151.8L923.3,156.7L924.6,160.7L923.4,165.2L928.7,169.0L931.9,169.8L935.3,168.4L938.2,168.8L940.8,167.1L944.9,166.9L949.7,165.3L954.8,165.1L960.6,160.3L960.4,158.6L957.7,156.7L955.8,152.2L950.6,147.4L949.5,144.4L948.5,143.8L946.5,144.9L943.5,145.7L937.9,144.9L933.2,146.1L927.8,145.7L924.8,147.6L922.8,147.8L921.9,148.8Z"/>
<path id="k115" d="M949.7,165.3L944.9,166.9L940.8,167.1L938.2,168.8L935.3,168.4L931.9,169.8L928.7,169.0L929.0,171.5L928.7,173.0L930.0,177.0L929.6,182.0L933.7,190.6L934.2,192.5L935.5,193.8L938.8,187.7L939.6,182.5L940.4,187.1L943.0,179.5L948.0,170.5L954.8,165.1Z"/>
<path id="k116" d="M910.7,169.1L905.4,166.6L902.9,166.8L899.2,164.7L896.9,164.3L894.9,164.8L893.0,164.1L890.8,162.4L888.8,163.0L886.2,164.6L884.7,166.7L883.6,166.8L881.5,168.0L879.3,171.7L904.0,197.5L904.9,197.5L907.2,190.7L907.5,185.9L909.4,179.2L908.8,177.7L908.9,175.9L911.1,173.0L910.6,171.5Z"/>
<path id="k117" d="M919.1,167.5L913.8,167.8L910.7,169.1L910.6,171.5L911.1,173.0L908.9,175.9L908.8,177.7L909.4,179.2L909.1,180.9L907.5,185.9L907.2,190.7L904.9,197.5L934.0,196.5L935.5,193.8L934.2,192.5L933.7,190.6L929.6,182.0L930.0,177.0L928.7,173.0L929.0,171.5L928.7,169.0L923.4,165.2Z"/>
<path id="k118" d="M1015.4,73.2L1017.8,74.6L1018.4,73.6L1018.2,72.9ZM1015.8,65.9L1011.1,52.7L1011.8,49.8L1006.6,51.9L1008.5,58.3L1008.5,62.4L1009.8,65.6L1012.3,69.3L1014.6,69.0ZM1006.5,50.5L1010.7,48.5L1010.1,47.8L1006.9,49.0Z"/>
<path id="k119" d="M1028.7,56.4L1023.7,54.0L1030.2,61.2L1033.1,60.2L1029.9,57.9ZM1011.9,50.0L1011.1,52.7L1015.8,65.9L1024.4,63.8L1023.7,58.0L1016.2,50.9L1013.4,50.6Z"/>
<path id="k120" d="M1001.9,62.5L1001.3,55.4L1003.6,51.8L1006.5,50.5L1006.9,49.0L1002.0,50.4L1001.0,51.7L999.0,52.6L996.4,52.4L991.7,58.9L992.6,61.2L994.8,63.1L999.8,69.9L1002.4,69.7L1003.6,67.4ZM1008.5,62.4L1008.5,58.3L1006.6,51.9L1002.9,53.4L1002.4,59.9L1003.6,67.1L1008.8,69.7L1012.3,69.3L1009.8,65.6Z"/>
<path id="k121" d="M1028.7,56.4L1027.3,46.6L1022.7,38.1L1014.1,38.2L1013.6,41.4L1015.3,45.0L1023.7,54.0ZM1027.1,38.1L1024.0,38.1L1026.7,41.4L1027.3,38.7ZM1010.9,45.2L1010.1,47.8L1010.7,48.5L1014.0,46.9L1013.2,44.3ZM1013.4,50.6L1016.2,50.9L1014.0,48.9L1011.8,49.8Z"/>
<path id="k122" d="M1037.4,52.4L1037.1,50.8L1039.6,46.9L1040.8,42.7L1037.4,38.8L1038.3,42.4L1036.1,38.1L1027.1,38.1L1026.7,41.4L1033.5,49.5L1037.3,55.6L1038.4,53.9ZM1039.6,38.1L1041.5,41.3L1042.8,39.6L1043.2,38.1ZM1027.4,50.3L1028.7,56.4L1029.9,57.9L1032.9,59.8L1028.9,49.5L1027.3,46.6Z"/>
<path id="k123" d="M1051.7,62.5L1052.6,67.4L1054.6,67.4L1053.0,61.9ZM1042.8,39.6L1041.5,41.3L1042.2,42.4ZM1039.6,46.9L1037.1,50.8L1037.4,52.4L1038.4,53.9L1037.3,55.6L1039.6,59.3L1042.0,54.9L1045.8,63.2L1049.7,65.1L1043.2,45.3L1040.8,42.7Z"/>
<path id="k124" d="M1036.8,77.3L1034.5,82.8L1033.8,89.6L1037.4,91.1L1039.0,94.7L1041.1,96.4L1042.8,92.1L1050.4,95.7L1053.0,90.5L1052.6,80.7L1048.4,75.2L1039.3,76.8L1038.7,89.9L1035.8,89.2L1037.7,80.1ZM1064.0,116.8L1063.4,114.5L1053.6,116.8L1055.7,118.6Z"/>
<path id="k125" d="M821.3,162.6L826.0,163.7L835.9,161.1L838.1,159.2L837.6,156.8L838.0,155.3L839.3,153.9L840.2,151.9L839.5,147.8L843.2,144.5L844.5,141.6L811.7,141.6L812.9,145.2L812.8,147.5L811.4,151.7L811.6,154.8L814.5,162.8L816.8,164.3Z"/>
<path id="k126" d="M843.2,144.5L839.5,147.8L840.2,151.9L839.3,153.9L838.0,155.3L837.6,156.8L838.1,159.2L840.4,160.4L841.5,163.1L844.6,168.4L844.9,170.8L848.6,175.5L849.8,173.0L850.3,169.0L854.7,164.1L856.2,160.5L862.8,154.5L850.5,141.6L844.5,141.6Z"/>
<path id="k127" d="M844.9,170.8L844.6,168.4L841.5,163.1L840.4,160.4L838.1,159.2L835.9,161.1L833.7,161.9L831.6,162.1L826.0,163.7L821.3,162.6L816.8,164.3L819.6,166.0L822.1,169.8L823.7,170.6L829.5,179.4L829.5,181.8L832.2,181.4L837.4,179.2L842.7,177.6L846.9,178.0L848.7,177.7L848.6,175.5Z"/>
<path id="k128" d="M877.6,176.2L880.5,172.9L862.8,154.5L856.2,160.5L854.7,164.1L850.3,169.0L849.8,173.0L848.6,175.5L848.7,177.7L849.5,178.7L852.1,180.1L856.8,180.1L862.5,178.9L867.3,179.1L870.5,178.3L875.2,178.8L876.8,178.5Z"/>
<path id="k129" d="M857.1,201.1L858.3,202.8L859.8,207.1L862.5,206.7L864.5,207.4L867.7,207.5L871.1,205.8L871.1,203.8L872.3,199.9L872.3,194.6L873.9,190.5L874.3,185.8L876.3,181.5L876.8,178.5L875.2,178.8L870.5,178.3L867.3,179.1L862.5,178.9L856.8,180.1L852.1,180.1L852.3,181.4L851.3,182.6L853.8,186.9L853.3,189.1L851.6,191.0L851.9,193.3L855.8,200.6Z"/>
<path id="k130" d="M877.9,208.1L886.3,211.8L888.3,214.2L900.0,202.5L904.0,197.5L880.5,172.9L877.6,176.2L876.3,181.5L874.3,185.8L873.9,190.5L872.3,194.6L872.3,199.9L871.1,203.8L871.1,205.8L873.8,205.6Z"/>
<path id="k131" d="M839.8,200.4L846.5,199.1L853.2,196.2L851.9,193.3L851.6,191.0L853.3,189.1L853.8,186.9L851.3,182.6L852.3,181.4L852.1,180.1L849.5,178.7L848.7,177.7L846.9,178.0L842.7,177.6L837.4,179.2L832.2,181.4L829.5,181.8L827.7,183.8L828.2,188.7L826.8,190.1L826.2,191.5L830.3,197.3L832.0,198.0L834.2,201.9L836.7,203.3Z"/>
<path id="k132" d="M846.5,199.1L839.8,200.4L836.7,203.3L836.9,204.4L835.8,208.5L835.7,212.7L834.5,215.9L835.3,220.4L834.9,222.2L836.7,222.7L841.8,226.9L845.7,227.6L849.0,229.7L851.0,227.4L853.2,220.3L856.0,215.1L855.8,213.0L856.6,211.4L858.6,210.2L859.4,209.1L858.4,207.5L859.8,207.1L858.3,202.8L857.1,201.1L855.8,200.6L853.2,196.2Z"/>
<path id="k133" d="M821.3,223.0L828.3,222.1L832.3,222.9L834.9,222.2L835.3,220.4L834.5,215.9L835.7,212.7L835.8,208.5L836.9,204.4L836.7,203.3L834.2,201.9L832.0,198.0L830.3,197.3L825.1,197.9L817.2,202.9L812.6,207.4L807.2,213.8L809.0,216.3L812.9,219.3L815.7,223.2L817.4,224.6L817.6,226.1L818.1,226.3L820.0,224.9Z"/>
<path id="k134" d="M850.8,234.1L851.9,236.0L855.4,238.0L855.1,239.6L855.5,241.0L858.1,242.9L864.0,238.9L869.0,240.5L868.9,241.3L872.0,240.5L870.0,233.5L878.0,227.5L886.0,216.5L888.3,214.2L886.3,211.8L877.9,208.1L873.8,205.6L871.1,205.8L867.7,207.5L864.5,207.4L862.5,206.7L858.4,207.5L859.4,209.1L858.6,210.2L856.6,211.4L855.8,213.0L856.0,215.1L853.2,220.3L851.0,227.4L849.0,229.7L850.8,231.9Z"/>
<path id="k135" d="M828.2,188.7L827.7,183.8L829.5,181.8L829.5,179.4L823.7,170.6L822.1,169.8L819.6,166.0L814.5,162.8L814.3,163.4L814.9,164.9L813.2,169.6L813.8,172.9L813.3,175.5L810.7,182.7L809.4,184.8L811.0,185.0L813.4,186.8L816.6,186.8L819.1,188.3L825.0,190.3L826.2,191.5L826.8,190.1Z"/>
<path id="k136" d="M807.2,213.8L817.2,202.9L825.1,197.9L830.3,197.3L825.0,190.3L819.1,188.3L816.6,186.8L813.4,186.8L811.0,185.0L809.4,184.8L806.7,186.7L803.8,187.8L802.3,189.3L800.8,193.3L798.0,197.3L798.2,201.1L797.5,202.7L799.1,205.4L801.3,206.9L803.9,207.9L805.8,210.3Z"/>
<path id="k137" d="M803.9,207.9L801.3,206.9L799.1,205.4L797.5,202.7L795.5,202.9L791.1,201.6L785.5,202.3L780.6,202.3L778.8,202.9L772.2,208.2L769.5,212.1L769.2,213.6L767.7,215.1L768.6,216.6L775.2,221.4L779.3,223.2L783.4,224.3L787.1,228.0L788.1,225.8L789.8,223.8L794.4,220.8L795.8,219.2L801.3,217.7L803.3,216.5L804.2,215.0L805.1,214.6L806.2,214.9L807.3,214.4L805.8,210.3Z"/>
<path id="k138" d="M792.0,241.1L796.6,239.9L798.9,241.3L800.7,243.5L802.4,244.1L803.6,242.6L806.6,240.7L811.3,235.8L813.7,232.2L815.8,227.4L817.6,226.1L817.4,224.6L815.7,223.2L812.9,219.3L809.0,216.3L807.3,214.4L806.2,214.9L805.1,214.6L804.2,215.0L803.3,216.5L801.3,217.7L795.8,219.2L794.4,220.8L789.8,223.8L788.1,225.8L787.1,228.0L786.4,235.5L786.6,236.5L787.9,237.0Z"/>
<path id="k139" d="M762.9,232.2L765.4,227.2L765.6,222.6L766.1,221.0L766.0,217.3L764.1,217.2L756.2,219.2L751.5,222.2L749.8,222.7L747.9,223.9L744.3,226.9L740.8,226.6L735.9,228.4L732.9,228.0L730.1,228.6L738.0,238.5L749.0,244.5L750.2,248.0L751.7,248.7L752.8,245.6L756.5,243.7L759.5,240.7L761.5,240.8L762.8,237.7Z"/>
<path id="k140" d="M766.0,217.3L766.1,221.0L765.6,222.6L765.4,227.2L762.9,232.2L762.8,237.7L761.5,240.8L762.7,242.0L768.4,243.2L772.8,244.8L777.4,249.1L779.1,248.3L780.3,245.9L781.9,244.2L784.0,243.8L785.6,242.4L786.9,239.9L788.7,238.3L787.9,237.0L786.6,236.5L786.4,235.5L787.1,228.0L783.4,224.3L779.3,223.2L775.2,221.4L768.6,216.6L767.7,215.1Z"/>
<path id="k141" d="M858.1,242.9L855.5,241.0L855.1,239.6L855.4,238.0L851.9,236.0L850.8,234.1L850.8,231.9L849.0,229.7L845.7,227.6L841.8,226.9L836.7,222.7L834.9,222.2L832.3,222.9L828.3,222.1L823.2,222.6L821.3,223.0L820.0,224.9L818.1,226.3L819.6,229.2L820.8,233.7L825.4,238.0L827.9,245.9L832.5,251.0L832.5,252.5L833.5,253.5L838.9,256.4Z"/>
<path id="k142" d="M759.8,263.9L767.4,257.2L770.8,253.3L772.5,252.6L775.9,249.3L777.4,249.1L772.8,244.8L768.4,243.2L762.7,242.0L761.5,240.8L759.5,240.7L756.5,243.7L752.8,245.6L751.7,248.7L750.2,248.0L753.0,256.5L757.0,264.5L757.0,265.7Z"/>
<path id="k143" d="M778.1,256.1L780.7,261.8L780.1,265.8L780.9,267.0L782.3,267.7L784.6,270.8L786.9,270.3L795.2,266.5L798.1,266.5L802.4,263.2L803.4,261.1L805.3,260.2L806.7,258.4L805.8,256.0L805.3,250.3L804.6,248.2L803.6,245.7L802.4,244.1L800.7,243.5L798.9,241.3L796.6,239.9L792.0,241.1L788.7,238.3L786.9,239.9L785.6,242.4L784.0,243.8L781.9,244.2L780.3,245.9L779.1,248.3L777.4,249.1L778.5,251.2Z"/>
<path id="k144" d="M810.9,258.0L815.2,259.5L822.4,258.9L824.1,257.9L825.3,256.4L828.5,255.0L832.5,252.5L832.5,251.0L827.9,245.9L825.4,238.0L820.8,233.7L819.6,229.2L817.6,226.1L815.8,227.4L813.7,232.2L811.3,235.8L806.6,240.7L803.6,242.6L802.4,244.1L803.6,245.7L804.6,248.2L805.3,250.3L805.8,256.0L806.7,258.4L808.8,257.8Z"/>
<path id="k145" d="M805.3,270.7L808.6,276.3L810.0,269.5L812.0,280.5L828.0,274.5L836.0,264.5L832.4,258.9L836.4,261.5L834.4,258.1L838.9,256.4L833.5,253.5L832.5,252.5L828.5,255.0L825.3,256.4L824.1,257.9L822.4,258.9L815.2,259.5L810.9,258.0L808.8,257.8L806.7,258.4L805.3,260.2L803.4,261.1L802.4,263.2Z"/>
<path id="k146" d="M864.0,238.9L850.0,248.5L840.0,256.1L834.4,258.1L836.4,261.5L838.0,262.5L844.0,262.5L852.0,254.5L867.0,245.5L868.0,241.5L868.9,241.3L869.0,240.5Z"/>
<path id="k147" d="M775.9,249.3L772.5,252.6L770.8,253.3L767.4,257.2L764.2,259.6L759.8,263.9L757.0,265.7L757.0,272.5L764.7,278.3L768.9,277.9L771.1,277.0L772.8,275.5L774.7,274.8L777.2,274.9L782.4,273.8L784.6,270.8L782.3,267.7L780.9,267.0L780.1,265.8L780.7,261.8L778.1,256.1L778.5,251.2L777.4,249.1Z"/>
<path id="k148" d="M779.4,300.4L780.4,297.2L784.3,293.8L787.5,291.8L789.1,290.0L788.0,283.7L786.7,280.3L782.4,273.8L777.2,274.9L774.7,274.8L772.8,275.5L771.1,277.0L768.9,277.9L764.7,278.3L772.0,294.5L772.4,303.5L776.4,304.5Z"/>
<path id="k149" d="M786.7,280.3L788.0,283.7L789.1,290.0L790.1,290.9L789.2,281.5L791.0,284.5L794.0,291.5L802.0,293.5L806.0,288.5L800.0,278.5L808.0,279.5L808.6,276.3L805.3,270.7L802.4,263.2L798.1,266.5L795.2,266.5L786.9,270.3L784.6,270.8L782.4,273.8Z"/>
<path id="k150" d="M784.3,293.8L780.4,297.2L779.4,300.4L776.4,304.5L783.0,306.1L786.0,300.5L789.0,303.5L795.0,297.5L790.4,294.5L790.1,290.9L789.1,290.0L787.5,291.8Z"/>
<g id="bk" fill="none" stroke-width="1.6"><polyline points="1044.5,37.5 1051.0,56.0 1058.8,72.9 1064.0,84.6 1067.3,93.7 1065.6,108.0 1064.0,116.8 1053.6,118.4 1045.8,121.7 1038.0,126.9"/><polyline points="1023.7,138.2 1015.9,145.7 1010.1,155.5"/></g></defs>
<text transform="translate(11.40,26.60) scale(0.887,1)" font-size="22.3" text-anchor="start" fill="#000" stroke="#000" stroke-width="0.27">a) PCA results</text>
<text transform="translate(603.20,26.60) scale(0.887,1)" font-size="22.3" text-anchor="start" fill="#000" stroke="#000" stroke-width="0.27">b) Spatial distribution of PCA-scores</text>
<text transform="translate(603.30,365.70) scale(0.887,1)" font-size="22.3" text-anchor="start" fill="#000" stroke="#000" stroke-width="0.27">c) Mean annual temperature (Tm<tspan font-size="68%">a</tspan>)</text>
<text transform="translate(11.30,708.10) scale(0.887,1)" font-size="22.3" text-anchor="start" fill="#000" stroke="#000" stroke-width="0.27">d) Mean annual precipitation (P<tspan font-size="68%">a</tspan>)</text>
<text transform="translate(603.30,708.10) scale(0.887,1)" font-size="22.3" text-anchor="start" fill="#000" stroke="#000" stroke-width="0.27">e) Mean diurnal temperature range (DR<tspan font-size="68%">m</tspan>)</text>
<g transform="translate(0.0,0.0)" stroke="#000" stroke-width="1.35" stroke-linejoin="round">
<use href="#k0" fill="#28a818"/>
<use href="#k1" fill="#20e020"/>
<use href="#k2" fill="#18c838"/>
<use href="#k3" fill="#10f020"/>
<use href="#k4" fill="#18b848"/>
<use href="#k5" fill="#00f838"/>
<use href="#k6" fill="#10b090"/>
<use href="#k7" fill="#00f840"/>
<use href="#k8" fill="#208878"/>
<use href="#k9" fill="#305098"/>
<use href="#k10" fill="#3840a0"/>
<use href="#k11" fill="#1088c0"/>
<use href="#k12" fill="#1890c0"/>
<use href="#k13" fill="#0890e8"/>
<use href="#k14" fill="#406080"/>
<use href="#k15" fill="#487838"/>
<use href="#k16" fill="#505058"/>
<use href="#k17" fill="#404090"/>
<use href="#k18" fill="#403898"/>
<use href="#k19" fill="#1080e8"/>
<use href="#k20" fill="#1060f0"/>
<use href="#k21" fill="#2040e0"/>
<use href="#k22" fill="#302888"/>
<use href="#k23" fill="#482890"/>
<use href="#k24" fill="#602880"/>
<use href="#k25" fill="#581870"/>
<use href="#k26" fill="#401890"/>
<use href="#k27" fill="#501080"/>
<use href="#k28" fill="#550e83"/>
<use href="#k29" fill="#611174"/>
<use href="#k30" fill="#685058"/>
<use href="#k31" fill="#672c6d"/>
<use href="#k32" fill="#703058"/>
<use href="#k33" fill="#601868"/>
<use href="#k34" fill="#6d1e6f"/>
<use href="#k35" fill="#712170"/>
<use href="#k36" fill="#782878"/>
<use href="#k37" fill="#4818a0"/>
<use href="#k38" fill="#5808a0"/>
<use href="#k39" fill="#48a818"/>
<use href="#k40" fill="#509820"/>
<use href="#k41" fill="#607838"/>
<use href="#k42" fill="#685828"/>
<use href="#k43" fill="#705020"/>
<use href="#k44" fill="#703850"/>
<use href="#k45" fill="#785830"/>
<use href="#k46" fill="#704010"/>
<use href="#k47" fill="#704818"/>
<use href="#k48" fill="#783048"/>
<use href="#k49" fill="#903060"/>
<use href="#k50" fill="#804818"/>
<use href="#k51" fill="#804010"/>
<use href="#k52" fill="#803818"/>
<use href="#k53" fill="#902848"/>
<use href="#k54" fill="#a83868"/>
<use href="#k55" fill="#803808"/>
<use href="#k56" fill="#883904"/>
<use href="#k57" fill="#883800"/>
<use href="#k58" fill="#a84038"/>
<use href="#k59" fill="#b84858"/>
<use href="#k60" fill="#a83820"/>
<use href="#k61" fill="#5608a0"/>
<use href="#k62" fill="#600888"/>
<use href="#k63" fill="#580880"/>
<use href="#k64" fill="#580878"/>
<use href="#k65" fill="#580878"/>
<use href="#k66" fill="#600878"/>
<use href="#k67" fill="#701880"/>
<use href="#k68" fill="#711a81"/>
<use href="#k69" fill="#783090"/>
<use href="#k70" fill="#8848b0"/>
<use href="#k71" fill="#6810a2"/>
<use href="#k72" fill="#ffffff"/>
<use href="#k73" fill="#601088"/>
<use href="#k74" fill="#611187"/>
<use href="#k75" fill="#6e1679"/>
<use href="#k76" fill="#701878"/>
<use href="#k77" fill="#882880"/>
<use href="#k78" fill="#884090"/>
<use href="#k79" fill="#782088"/>
<use href="#k80" fill="#600878"/>
<use href="#k81" fill="#702088"/>
<use href="#k82" fill="#6f1d86"/>
<use href="#k83" fill="#8b3e85"/>
<use href="#k84" fill="#a15a7a"/>
<use href="#k85" fill="#925092"/>
<use href="#k86" fill="#a06898"/>
<use href="#k87" fill="#a878b8"/>
<use href="#k88" fill="#a87098"/>
<use href="#k89" fill="#a080c0"/>
<use href="#k90" fill="#782878"/>
<use href="#k91" fill="#803078"/>
<use href="#k92" fill="#832e87"/>
<use href="#k93" fill="#883888"/>
<use href="#k94" fill="#883880"/>
<use href="#k95" fill="#a06090"/>
<use href="#k96" fill="#a05879"/>
<use href="#k97" fill="#a87869"/>
<use href="#k98" fill="#b89090"/>
<use href="#k99" fill="#aa749a"/>
<use href="#k100" fill="#b890b0"/>
<use href="#k101" fill="#b8a8d8"/>
<use href="#k102" fill="#c09098"/>
<use href="#k103" fill="#883070"/>
<use href="#k104" fill="#903868"/>
<use href="#k105" fill="#9b436a"/>
<use href="#k106" fill="#a04878"/>
<use href="#k107" fill="#a85080"/>
<use href="#k108" fill="#b07078"/>
<use href="#k109" fill="#b88870"/>
<use href="#k110" fill="#b48b7a"/>
<use href="#k111" fill="#c0a078"/>
<use href="#k112" fill="#a04960"/>
<use href="#k113" fill="#b07070"/>
<use href="#k114" fill="#c8a070"/>
<use href="#k115" fill="#d0a880"/>
<use href="#k116" fill="#b87868"/>
<use href="#k117" fill="#c8a078"/>
<use href="#k118" fill="#9858c0"/>
<use href="#k119" fill="#9858c0"/>
<use href="#k120" fill="#8d4aad"/>
<use href="#k121" fill="#935fd9"/>
<use href="#k122" fill="#9060e0"/>
<use href="#k123" fill="#9060f0"/>
<use href="#k124" fill="#a890f0"/>
<use href="#k125" fill="#a63f68"/>
<use href="#k126" fill="#a84067"/>
<use href="#k127" fill="#b74860"/>
<use href="#k128" fill="#b85850"/>
<use href="#k129" fill="#bb5d55"/>
<use href="#k130" fill="#c87870"/>
<use href="#k131" fill="#c05058"/>
<use href="#k132" fill="#c86142"/>
<use href="#k133" fill="#c54f47"/>
<use href="#k134" fill="#d08c6c"/>
<use href="#k135" fill="#c04866"/>
<use href="#k136" fill="#c14952"/>
<use href="#k137" fill="#c04848"/>
<use href="#k138" fill="#ca5c42"/>
<use href="#k139" fill="#b64627"/>
<use href="#k140" fill="#c85830"/>
<use href="#k141" fill="#dc8474"/>
<use href="#k142" fill="#c85028"/>
<use href="#k143" fill="#d87841"/>
<use href="#k144" fill="#e08059"/>
<use href="#k145" fill="#f098b8"/>
<use href="#k146" fill="#f09bb5"/>
<use href="#k147" fill="#df6f30"/>
<use href="#k148" fill="#f08860"/>
<use href="#k149" fill="#f89090"/>
<use href="#k150" fill="#f89898"/>
<use href="#bk"/>
</g>
<g transform="translate(0.0,339.5)" stroke="#000" stroke-width="1.35" stroke-linejoin="round">
<use href="#k0" fill="#908ce8"/>
<use href="#k1" fill="#726fed"/>
<use href="#k2" fill="#403ff5"/>
<use href="#k3" fill="#403ff5"/>
<use href="#k4" fill="#2322fa"/>
<use href="#k5" fill="#3c3af6"/>
<use href="#k6" fill="#1413fc"/>
<use href="#k7" fill="#6866ef"/>
<use href="#k8" fill="#8b88e9"/>
<use href="#k9" fill="#6866ef"/>
<use href="#k10" fill="#4f4df3"/>
<use href="#k11" fill="#2322fa"/>
<use href="#k12" fill="#3230f7"/>
<use href="#k13" fill="#0000ff"/>
<use href="#k14" fill="#a4a0e5"/>
<use href="#k15" fill="#f8f2d8"/>
<use href="#k16" fill="#f8e8cf"/>
<use href="#k17" fill="#cbc6df"/>
<use href="#k18" fill="#bcb8e1"/>
<use href="#k19" fill="#0a0afd"/>
<use href="#k20" fill="#0000ff"/>
<use href="#k21" fill="#2322fa"/>
<use href="#k22" fill="#a4a0e5"/>
<use href="#k23" fill="#dad5dd"/>
<use href="#k24" fill="#f9dac2"/>
<use href="#k25" fill="#f8f2d8"/>
<use href="#k26" fill="#bcb8e1"/>
<use href="#k27" fill="#e4dfdb"/>
<use href="#k28" fill="#f8e3cb"/>
<use href="#k29" fill="#f9d5be"/>
<use href="#k30" fill="#f9cbb5"/>
<use href="#k31" fill="#f9cbb5"/>
<use href="#k32" fill="#f9c2ad"/>
<use href="#k33" fill="#fab8a4"/>
<use href="#k34" fill="#f9c2ad"/>
<use href="#k35" fill="#fabda8"/>
<use href="#k36" fill="#faa593"/>
<use href="#k37" fill="#dad5dd"/>
<use href="#k38" fill="#f8f2d8"/>
<use href="#k39" fill="#f9dac2"/>
<use href="#k40" fill="#f9d0ba"/>
<use href="#k41" fill="#f9c2ad"/>
<use href="#k42" fill="#faa593"/>
<use href="#k43" fill="#faae9b"/>
<use href="#k44" fill="#faa593"/>
<use href="#k45" fill="#fb9b8a"/>
<use href="#k46" fill="#fb9b8a"/>
<use href="#k47" fill="#faa593"/>
<use href="#k48" fill="#fb9b8a"/>
<use href="#k49" fill="#fb9081"/>
<use href="#k50" fill="#fb8879"/>
<use href="#k51" fill="#fb8879"/>
<use href="#k52" fill="#fb7e70"/>
<use href="#k53" fill="#fb8879"/>
<use href="#k54" fill="#fc6d61"/>
<use href="#k55" fill="#fc7468"/>
<use href="#k56" fill="#fc6f63"/>
<use href="#k57" fill="#fc665b"/>
<use href="#k58" fill="#fd5249"/>
<use href="#k59" fill="#fc5c52"/>
<use href="#k60" fill="#fd5249"/>
<use href="#k61" fill="#e9e3da"/>
<use href="#k62" fill="#f3edd9"/>
<use href="#k63" fill="#f8f1d7"/>
<use href="#k64" fill="#f8f2d8"/>
<use href="#k65" fill="#f8eed4"/>
<use href="#k66" fill="#f9d6bf"/>
<use href="#k67" fill="#f9d0ba"/>
<use href="#k68" fill="#f9c9b4"/>
<use href="#k69" fill="#fabda9"/>
<use href="#k70" fill="#f9c1ad"/>
<use href="#k71" fill="#f8e3cb"/>
<use href="#k72" fill="#ffffff"/>
<use href="#k73" fill="#f8e3cb"/>
<use href="#k74" fill="#f8e3ca"/>
<use href="#k75" fill="#f9cbb5"/>
<use href="#k76" fill="#f9cbb5"/>
<use href="#k77" fill="#f9bfab"/>
<use href="#k78" fill="#faae9c"/>
<use href="#k79" fill="#f9c2ad"/>
<use href="#k80" fill="#f9c7b1"/>
<use href="#k81" fill="#f9c6b1"/>
<use href="#k82" fill="#f9d9c1"/>
<use href="#k83" fill="#faaf9c"/>
<use href="#k84" fill="#faa694"/>
<use href="#k85" fill="#faab99"/>
<use href="#k86" fill="#fb9081"/>
<use href="#k87" fill="#fb8879"/>
<use href="#k88" fill="#fb8f80"/>
<use href="#k89" fill="#fb7e70"/>
<use href="#k90" fill="#faae9c"/>
<use href="#k91" fill="#faaa98"/>
<use href="#k92" fill="#f9c8b3"/>
<use href="#k93" fill="#faab99"/>
<use href="#k94" fill="#faa593"/>
<use href="#k95" fill="#fa9c8b"/>
<use href="#k96" fill="#faa391"/>
<use href="#k97" fill="#fb7a6d"/>
<use href="#k98" fill="#fc6f63"/>
<use href="#k99" fill="#fc7568"/>
<use href="#k100" fill="#fc655a"/>
<use href="#k101" fill="#fc6157"/>
<use href="#k102" fill="#fc655a"/>
<use href="#k103" fill="#fa9f8e"/>
<use href="#k104" fill="#fb9686"/>
<use href="#k105" fill="#fb8e7e"/>
<use href="#k106" fill="#fb8c7d"/>
<use href="#k107" fill="#fb8677"/>
<use href="#k108" fill="#fb8879"/>
<use href="#k109" fill="#fb7e70"/>
<use href="#k110" fill="#fc685d"/>
<use href="#k111" fill="#fc665b"/>
<use href="#k112" fill="#fb7e70"/>
<use href="#k113" fill="#fc7669"/>
<use href="#k114" fill="#fc6a5f"/>
<use href="#k115" fill="#fc5d53"/>
<use href="#k116" fill="#fc6f63"/>
<use href="#k117" fill="#fc574e"/>
<use href="#k118" fill="#fab5a2"/>
<use href="#k119" fill="#fab6a3"/>
<use href="#k120" fill="#fab7a3"/>
<use href="#k121" fill="#fab8a4"/>
<use href="#k122" fill="#fab5a2"/>
<use href="#k123" fill="#faa795"/>
<use href="#k124" fill="#fb8779"/>
<use href="#k125" fill="#fb8a7b"/>
<use href="#k126" fill="#fb8274"/>
<use href="#k127" fill="#fc574d"/>
<use href="#k128" fill="#fc6a5e"/>
<use href="#k129" fill="#fd4b43"/>
<use href="#k130" fill="#fd4e45"/>
<use href="#k131" fill="#fd4d45"/>
<use href="#k132" fill="#fe312c"/>
<use href="#k133" fill="#fe2b27"/>
<use href="#k134" fill="#fe302b"/>
<use href="#k135" fill="#fd5249"/>
<use href="#k136" fill="#fd4b43"/>
<use href="#k137" fill="#fd3d36"/>
<use href="#k138" fill="#fe2420"/>
<use href="#k139" fill="#fd3d36"/>
<use href="#k140" fill="#fd342e"/>
<use href="#k141" fill="#fe1816"/>
<use href="#k142" fill="#fe221e"/>
<use href="#k143" fill="#fe1916"/>
<use href="#k144" fill="#fe1d1a"/>
<use href="#k145" fill="#fe1816"/>
<use href="#k146" fill="#fe1b18"/>
<use href="#k147" fill="#fe1e1b"/>
<use href="#k148" fill="#ff0202"/>
<use href="#k149" fill="#ff0f0d"/>
<use href="#k150" fill="#ff0000"/>
<use href="#bk"/>
</g>
<g transform="translate(-592.1,682.3)" stroke="#000" stroke-width="1.35" stroke-linejoin="round">
<use href="#k0" fill="#1020f8"/>
<use href="#k1" fill="#5010d0"/>
<use href="#k2" fill="#3018e4"/>
<use href="#k3" fill="#6b0bc0"/>
<use href="#k4" fill="#161ef4"/>
<use href="#k5" fill="#600dc6"/>
<use href="#k6" fill="#143ade"/>
<use href="#k7" fill="#a000a0"/>
<use href="#k8" fill="#208890"/>
<use href="#k9" fill="#6aff00"/>
<use href="#k10" fill="#90ff00"/>
<use href="#k11" fill="#14b860"/>
<use href="#k12" fill="#13d340"/>
<use href="#k13" fill="#1aa078"/>
<use href="#k14" fill="#20ff00"/>
<use href="#k15" fill="#13d340"/>
<use href="#k16" fill="#2fff00"/>
<use href="#k17" fill="#2fff00"/>
<use href="#k18" fill="#2fff00"/>
<use href="#k19" fill="#10c850"/>
<use href="#k20" fill="#3eff00"/>
<use href="#k21" fill="#6aff00"/>
<use href="#k22" fill="#5bff00"/>
<use href="#k23" fill="#6aff00"/>
<use href="#k24" fill="#90ff00"/>
<use href="#k25" fill="#c4ff00"/>
<use href="#k26" fill="#a6ff00"/>
<use href="#k27" fill="#a6ff00"/>
<use href="#k28" fill="#cbff00"/>
<use href="#k29" fill="#d9ff00"/>
<use href="#k30" fill="#5bff00"/>
<use href="#k31" fill="#90ff00"/>
<use href="#k32" fill="#90ff00"/>
<use href="#k33" fill="#d2ff00"/>
<use href="#k34" fill="#bcff00"/>
<use href="#k35" fill="#b6ff00"/>
<use href="#k36" fill="#b9ff00"/>
<use href="#k37" fill="#b5ff00"/>
<use href="#k38" fill="#bcff00"/>
<use href="#k39" fill="#143ade"/>
<use href="#k40" fill="#1b65b3"/>
<use href="#k41" fill="#12c058"/>
<use href="#k42" fill="#45ff00"/>
<use href="#k43" fill="#5bff00"/>
<use href="#k44" fill="#9eff00"/>
<use href="#k45" fill="#45ff00"/>
<use href="#k46" fill="#6aff00"/>
<use href="#k47" fill="#6aff00"/>
<use href="#k48" fill="#9eff00"/>
<use href="#k49" fill="#b5ff00"/>
<use href="#k50" fill="#79ff00"/>
<use href="#k51" fill="#79ff00"/>
<use href="#k52" fill="#81ff00"/>
<use href="#k53" fill="#9eff00"/>
<use href="#k54" fill="#d2ff00"/>
<use href="#k55" fill="#7bff00"/>
<use href="#k56" fill="#87ff00"/>
<use href="#k57" fill="#88ff00"/>
<use href="#k58" fill="#91ff00"/>
<use href="#k59" fill="#c3ff00"/>
<use href="#k60" fill="#9eff00"/>
<use href="#k61" fill="#e7ff00"/>
<use href="#k62" fill="#ffff00"/>
<use href="#k63" fill="#ffff00"/>
<use href="#k64" fill="#ffff00"/>
<use href="#k65" fill="#feff00"/>
<use href="#k66" fill="#ffff00"/>
<use href="#k67" fill="#daff00"/>
<use href="#k68" fill="#bcff00"/>
<use href="#k69" fill="#8eff00"/>
<use href="#k70" fill="#6aff00"/>
<use href="#k71" fill="#ebff00"/>
<use href="#k72" fill="#ffffff"/>
<use href="#k73" fill="#d2ff00"/>
<use href="#k74" fill="#deff00"/>
<use href="#k75" fill="#d3ff00"/>
<use href="#k76" fill="#cbff00"/>
<use href="#k77" fill="#aeff00"/>
<use href="#k78" fill="#6aff00"/>
<use href="#k79" fill="#d2ff00"/>
<use href="#k80" fill="#daff00"/>
<use href="#k81" fill="#d2ff00"/>
<use href="#k82" fill="#c8ff00"/>
<use href="#k83" fill="#a4ff00"/>
<use href="#k84" fill="#65ff00"/>
<use href="#k85" fill="#5aff00"/>
<use href="#k86" fill="#4dff00"/>
<use href="#k87" fill="#3eff00"/>
<use href="#k88" fill="#37ff00"/>
<use href="#k89" fill="#20ff00"/>
<use href="#k90" fill="#c3ff00"/>
<use href="#k91" fill="#afff00"/>
<use href="#k92" fill="#b9ff00"/>
<use href="#k93" fill="#b4ff00"/>
<use href="#k94" fill="#a6ff00"/>
<use href="#k95" fill="#80ff00"/>
<use href="#k96" fill="#6cff00"/>
<use href="#k97" fill="#50ff00"/>
<use href="#k98" fill="#20ff00"/>
<use href="#k99" fill="#2fff00"/>
<use href="#k100" fill="#1df410"/>
<use href="#k101" fill="#13d340"/>
<use href="#k102" fill="#20ff00"/>
<use href="#k103" fill="#b9ff00"/>
<use href="#k104" fill="#caff00"/>
<use href="#k105" fill="#b6ff00"/>
<use href="#k106" fill="#bbff00"/>
<use href="#k107" fill="#a6ff00"/>
<use href="#k108" fill="#63ff00"/>
<use href="#k109" fill="#2fff00"/>
<use href="#k110" fill="#1ef70c"/>
<use href="#k111" fill="#1ae920"/>
<use href="#k112" fill="#abff00"/>
<use href="#k113" fill="#6aff00"/>
<use href="#k114" fill="#20ff00"/>
<use href="#k115" fill="#17e22b"/>
<use href="#k116" fill="#54ff00"/>
<use href="#k117" fill="#20ff00"/>
<use href="#k118" fill="#5bff00"/>
<use href="#k119" fill="#5bff00"/>
<use href="#k120" fill="#62ff00"/>
<use href="#k121" fill="#57ff00"/>
<use href="#k122" fill="#54ff00"/>
<use href="#k123" fill="#50ff00"/>
<use href="#k124" fill="#20ff00"/>
<use href="#k125" fill="#b8ff00"/>
<use href="#k126" fill="#c1ff00"/>
<use href="#k127" fill="#b5ff00"/>
<use href="#k128" fill="#9fff00"/>
<use href="#k129" fill="#89ff00"/>
<use href="#k130" fill="#45ff00"/>
<use href="#k131" fill="#a5ff00"/>
<use href="#k132" fill="#62ff00"/>
<use href="#k133" fill="#94ff00"/>
<use href="#k134" fill="#2fff00"/>
<use href="#k135" fill="#c9ff00"/>
<use href="#k136" fill="#b9ff00"/>
<use href="#k137" fill="#9eff00"/>
<use href="#k138" fill="#8aff00"/>
<use href="#k139" fill="#9eff00"/>
<use href="#k140" fill="#94ff00"/>
<use href="#k141" fill="#4aff00"/>
<use href="#k142" fill="#85ff00"/>
<use href="#k143" fill="#6dff00"/>
<use href="#k144" fill="#40ff00"/>
<use href="#k145" fill="#2fff00"/>
<use href="#k146" fill="#3aff00"/>
<use href="#k147" fill="#69ff00"/>
<use href="#k148" fill="#45ff00"/>
<use href="#k149" fill="#36ff00"/>
<use href="#k150" fill="#41ff00"/>
<use href="#bk"/>
</g>
<g transform="translate(0.0,682.3)" stroke="#000" stroke-width="1.35" stroke-linejoin="round">
<use href="#k0" fill="#940000"/>
<use href="#k1" fill="#bb0000"/>
<use href="#k2" fill="#ff1500"/>
<use href="#k3" fill="#ff2000"/>
<use href="#k4" fill="#ff1500"/>
<use href="#k5" fill="#ff4b00"/>
<use href="#k6" fill="#ff9400"/>
<use href="#k7" fill="#ff5500"/>
<use href="#k8" fill="#ff2b00"/>
<use href="#k9" fill="#ff2b00"/>
<use href="#k10" fill="#ff3500"/>
<use href="#k11" fill="#ff9d00"/>
<use href="#k12" fill="#ff8000"/>
<use href="#k13" fill="#ffff00"/>
<use href="#k14" fill="#ff0b00"/>
<use href="#k15" fill="#e20000"/>
<use href="#k16" fill="#d80000"/>
<use href="#k17" fill="#ff0b00"/>
<use href="#k18" fill="#ff0b00"/>
<use href="#k19" fill="#d5ff2b"/>
<use href="#k20" fill="#ffff00"/>
<use href="#k21" fill="#ff8000"/>
<use href="#k22" fill="#bb0000"/>
<use href="#k23" fill="#f50000"/>
<use href="#k24" fill="#ff4b00"/>
<use href="#k25" fill="#d80000"/>
<use href="#k26" fill="#c40000"/>
<use href="#k27" fill="#c40000"/>
<use href="#k28" fill="#ce0000"/>
<use href="#k29" fill="#ff0000"/>
<use href="#k30" fill="#eb0000"/>
<use href="#k31" fill="#ff6000"/>
<use href="#k32" fill="#ff6000"/>
<use href="#k33" fill="#ff8a00"/>
<use href="#k34" fill="#ff1500"/>
<use href="#k35" fill="#ff1500"/>
<use href="#k36" fill="#ff5500"/>
<use href="#k37" fill="#ff5500"/>
<use href="#k38" fill="#ff8000"/>
<use href="#k39" fill="#ff2b00"/>
<use href="#k40" fill="#ff4b00"/>
<use href="#k41" fill="#ff8000"/>
<use href="#k42" fill="#ff1500"/>
<use href="#k43" fill="#d80000"/>
<use href="#k44" fill="#ff4b00"/>
<use href="#k45" fill="#ff4b00"/>
<use href="#k46" fill="#bb0000"/>
<use href="#k47" fill="#9d0000"/>
<use href="#k48" fill="#ff1500"/>
<use href="#k49" fill="#ff4b00"/>
<use href="#k50" fill="#ff0000"/>
<use href="#k51" fill="#a70000"/>
<use href="#k52" fill="#800000"/>
<use href="#k53" fill="#ff0000"/>
<use href="#k54" fill="#ff5500"/>
<use href="#k55" fill="#a70000"/>
<use href="#k56" fill="#940000"/>
<use href="#k57" fill="#9d0000"/>
<use href="#k58" fill="#e20000"/>
<use href="#k59" fill="#ff4b00"/>
<use href="#k60" fill="#9d0000"/>
<use href="#k61" fill="#ff6b00"/>
<use href="#k62" fill="#ff2b00"/>
<use href="#k63" fill="#ff2000"/>
<use href="#k64" fill="#ff1500"/>
<use href="#k65" fill="#e20000"/>
<use href="#k66" fill="#ff0b00"/>
<use href="#k67" fill="#ff3500"/>
<use href="#k68" fill="#ff4b00"/>
<use href="#k69" fill="#ff9d00"/>
<use href="#k70" fill="#b5ff4b"/>
<use href="#k71" fill="#ffc400"/>
<use href="#k72" fill="#ffffff"/>
<use href="#k73" fill="#ff2b00"/>
<use href="#k74" fill="#ff3500"/>
<use href="#k75" fill="#ff0000"/>
<use href="#k76" fill="#ff3500"/>
<use href="#k77" fill="#ff4b00"/>
<use href="#k78" fill="#ff9400"/>
<use href="#k79" fill="#ff8a00"/>
<use href="#k80" fill="#ff6b00"/>
<use href="#k81" fill="#ff8000"/>
<use href="#k82" fill="#ff3500"/>
<use href="#k83" fill="#ff4000"/>
<use href="#k84" fill="#ff6000"/>
<use href="#k85" fill="#ff9400"/>
<use href="#k86" fill="#d5ff2b"/>
<use href="#k87" fill="#3cffc4"/>
<use href="#k88" fill="#c0ff40"/>
<use href="#k89" fill="#00e6ff"/>
<use href="#k90" fill="#ff4b00"/>
<use href="#k91" fill="#ff5500"/>
<use href="#k92" fill="#ff6b00"/>
<use href="#k93" fill="#ffb100"/>
<use href="#k94" fill="#ff7500"/>
<use href="#k95" fill="#ffb100"/>
<use href="#k96" fill="#ff6b00"/>
<use href="#k97" fill="#ff6b00"/>
<use href="#k98" fill="#b5ff4b"/>
<use href="#k99" fill="#b5ff4b"/>
<use href="#k100" fill="#1affe6"/>
<use href="#k101" fill="#0026ff"/>
<use href="#k102" fill="#b5ff4b"/>
<use href="#k103" fill="#ff4b00"/>
<use href="#k104" fill="#ff1500"/>
<use href="#k105" fill="#ff0000"/>
<use href="#k106" fill="#ff5500"/>
<use href="#k107" fill="#ff9400"/>
<use href="#k108" fill="#ff8a00"/>
<use href="#k109" fill="#ff9400"/>
<use href="#k110" fill="#ff9d00"/>
<use href="#k111" fill="#fff500"/>
<use href="#k112" fill="#ff1500"/>
<use href="#k113" fill="#ff5500"/>
<use href="#k114" fill="#ffc400"/>
<use href="#k115" fill="#b5ff4b"/>
<use href="#k116" fill="#ff5500"/>
<use href="#k117" fill="#fff500"/>
<use href="#k118" fill="#55ffaa"/>
<use href="#k119" fill="#55ffaa"/>
<use href="#k120" fill="#95ff6b"/>
<use href="#k121" fill="#00d9ff"/>
<use href="#k122" fill="#001aff"/>
<use href="#k123" fill="#0000aa"/>
<use href="#k124" fill="#000080"/>
<use href="#k125" fill="#ff5500"/>
<use href="#k126" fill="#ff2000"/>
<use href="#k127" fill="#ff3500"/>
<use href="#k128" fill="#f50000"/>
<use href="#k129" fill="#ff2b00"/>
<use href="#k130" fill="#ff9400"/>
<use href="#k131" fill="#ff4b00"/>
<use href="#k132" fill="#ff1500"/>
<use href="#k133" fill="#ff1500"/>
<use href="#k134" fill="#fff500"/>
<use href="#k135" fill="#ff6b00"/>
<use href="#k136" fill="#f50000"/>
<use href="#k137" fill="#ff1500"/>
<use href="#k138" fill="#ff1500"/>
<use href="#k139" fill="#a70000"/>
<use href="#k140" fill="#eb0000"/>
<use href="#k141" fill="#fff500"/>
<use href="#k142" fill="#ce0000"/>
<use href="#k143" fill="#ff8000"/>
<use href="#k144" fill="#ff8a00"/>
<use href="#k145" fill="#0059ff"/>
<use href="#k146" fill="#0059ff"/>
<use href="#k147" fill="#ff1500"/>
<use href="#k148" fill="#fff500"/>
<use href="#k149" fill="#3cffc4"/>
<use href="#k150" fill="#55ffaa"/>
<use href="#bk"/>
</g>
<g stroke="#000" stroke-width="1.45">
<ellipse cx="199.5" cy="145.2" rx="5.1" ry="5.75" fill="#a888d0"/>
<ellipse cx="195.5" cy="150.1" rx="5.1" ry="5.75" fill="#a681cb"/>
<ellipse cx="194.6" cy="156.1" rx="5.1" ry="5.75" fill="#a37ac7"/>
<ellipse cx="193.2" cy="164.7" rx="5.1" ry="5.75" fill="#a174c2"/>
<ellipse cx="192.6" cy="173.0" rx="5.1" ry="5.75" fill="#9f6dbe"/>
<ellipse cx="191.1" cy="181.0" rx="5.1" ry="5.75" fill="#9d66b9"/>
<ellipse cx="188.2" cy="189.3" rx="5.1" ry="5.75" fill="#9a5fb5"/>
<ellipse cx="185.5" cy="195.3" rx="5.1" ry="5.75" fill="#9859b0"/>
<ellipse cx="185.0" cy="201.6" rx="5.1" ry="5.75" fill="#984ea6"/>
<ellipse cx="180.7" cy="206.4" rx="5.1" ry="5.75" fill="#98439b"/>
<ellipse cx="181.7" cy="217.6" rx="5.1" ry="5.75" fill="#983890"/>
<ellipse cx="209.6" cy="152.3" rx="5.1" ry="5.75" fill="#c09878"/>
<ellipse cx="207.9" cy="161.0" rx="5.1" ry="5.75" fill="#bb8d7d"/>
<ellipse cx="204.8" cy="166.7" rx="5.1" ry="5.75" fill="#b68282"/>
<ellipse cx="201.2" cy="174.7" rx="5.1" ry="5.75" fill="#b27786"/>
<ellipse cx="199.4" cy="179.1" rx="5.1" ry="5.75" fill="#ad6c8b"/>
<ellipse cx="198.8" cy="186.9" rx="5.1" ry="5.75" fill="#a86190"/>
<ellipse cx="194.0" cy="193.2" rx="5.1" ry="5.75" fill="#a85a8a"/>
<ellipse cx="192.3" cy="201.2" rx="5.1" ry="5.75" fill="#a85383"/>
<ellipse cx="194.0" cy="206.0" rx="5.1" ry="5.75" fill="#a84d7d"/>
<ellipse cx="192.0" cy="210.2" rx="5.1" ry="5.75" fill="#a84676"/>
<ellipse cx="188.0" cy="216.6" rx="5.1" ry="5.75" fill="#a84070"/>
<ellipse cx="172.3" cy="212.3" rx="5.1" ry="5.75" fill="#802098"/>
<ellipse cx="175.7" cy="211.6" rx="5.1" ry="5.75" fill="#89268d"/>
<ellipse cx="184.5" cy="214.5" rx="5.1" ry="5.75" fill="#922c82"/>
<ellipse cx="184.6" cy="210.6" rx="5.1" ry="5.75" fill="#9b3277"/>
<ellipse cx="189.1" cy="212.6" rx="5.1" ry="5.75" fill="#a4386c"/>
<ellipse cx="194.0" cy="213.2" rx="5.1" ry="5.75" fill="#ad3e61"/>
<ellipse cx="203.0" cy="212.6" rx="5.1" ry="5.75" fill="#b64456"/>
<ellipse cx="208.1" cy="215.1" rx="5.1" ry="5.75" fill="#bf4a4b"/>
<ellipse cx="209.0" cy="215.4" rx="5.1" ry="5.75" fill="#c85040"/>
<ellipse cx="175.4" cy="230.3" rx="5.1" ry="5.75" fill="#a03070"/>
<ellipse cx="172.5" cy="235.2" rx="5.1" ry="5.75" fill="#9c2d74"/>
<ellipse cx="167.6" cy="235.2" rx="5.1" ry="5.75" fill="#982a79"/>
<ellipse cx="166.7" cy="237.4" rx="5.1" ry="5.75" fill="#94277d"/>
<ellipse cx="158.6" cy="244.1" rx="5.1" ry="5.75" fill="#902481"/>
<ellipse cx="159.5" cy="246.0" rx="5.1" ry="5.75" fill="#8c2186"/>
<ellipse cx="157.2" cy="255.3" rx="5.1" ry="5.75" fill="#861d87"/>
<ellipse cx="149.2" cy="256.2" rx="5.1" ry="5.75" fill="#7f1786"/>
<ellipse cx="145.2" cy="258.3" rx="5.1" ry="5.75" fill="#771184"/>
<ellipse cx="142.5" cy="266.0" rx="5.1" ry="5.75" fill="#6f0c83"/>
<ellipse cx="142.4" cy="269.6" rx="5.1" ry="5.75" fill="#680681"/>
<ellipse cx="142.1" cy="272.6" rx="5.1" ry="5.75" fill="#600080"/>
<ellipse cx="78.4" cy="49.4" rx="5.1" ry="5.75" fill="#003010"/>
<ellipse cx="77.0" cy="49.4" rx="5.1" ry="5.75" fill="#00f020"/>
<ellipse cx="73.0" cy="58.6" rx="5.1" ry="5.75" fill="#00ff40"/>
<ellipse cx="89.0" cy="77.6" rx="5.1" ry="5.75" fill="#10e020"/>
<ellipse cx="79.0" cy="97.0" rx="5.1" ry="5.75" fill="#10d050"/>
<ellipse cx="86.4" cy="92.0" rx="5.1" ry="5.75" fill="#10d040"/>
<ellipse cx="80.0" cy="115.4" rx="5.1" ry="5.75" fill="#10b088"/>
<ellipse cx="103.0" cy="118.6" rx="5.1" ry="5.75" fill="#20a818"/>
<ellipse cx="131.4" cy="123.6" rx="5.1" ry="5.75" fill="#48a018"/>
<ellipse cx="136.0" cy="137.6" rx="5.1" ry="5.75" fill="#589828"/>
<ellipse cx="85.0" cy="162.0" rx="5.1" ry="5.75" fill="#1078b8"/>
<ellipse cx="80.6" cy="148.0" rx="5.1" ry="5.75" fill="#0890e8"/>
<ellipse cx="83.6" cy="155.6" rx="5.1" ry="5.75" fill="#1080c0"/>
<ellipse cx="86.4" cy="167.6" rx="5.1" ry="5.75" fill="#1078b0"/>
<ellipse cx="85.4" cy="181.0" rx="5.1" ry="5.75" fill="#0868f0"/>
<ellipse cx="102.0" cy="149.4" rx="5.1" ry="5.75" fill="#208878"/>
<ellipse cx="142.0" cy="165.0" rx="5.1" ry="5.75" fill="#608038"/>
<ellipse cx="127.4" cy="176.6" rx="5.1" ry="5.75" fill="#487040"/>
<ellipse cx="110.0" cy="195.0" rx="5.1" ry="5.75" fill="#205880"/>
<ellipse cx="109.0" cy="200.0" rx="5.1" ry="5.75" fill="#3060a8"/>
<ellipse cx="130.0" cy="205.0" rx="5.1" ry="5.75" fill="#505058"/>
<ellipse cx="94.4" cy="216.4" rx="5.1" ry="5.75" fill="#1838d8"/>
<ellipse cx="112.4" cy="214.6" rx="5.1" ry="5.75" fill="#3840a0"/>
<ellipse cx="119.4" cy="223.0" rx="5.1" ry="5.75" fill="#382890"/>
<ellipse cx="121.4" cy="214.0" rx="5.1" ry="5.75" fill="#403898"/>
<ellipse cx="149.0" cy="197.0" rx="5.1" ry="5.75" fill="#705820"/>
<ellipse cx="159.0" cy="194.0" rx="5.1" ry="5.75" fill="#705820"/>
<ellipse cx="143.0" cy="216.0" rx="5.1" ry="5.75" fill="#604048"/>
<ellipse cx="144.4" cy="209.0" rx="5.1" ry="5.75" fill="#684818"/>
<ellipse cx="215.6" cy="120.6" rx="5.1" ry="5.75" fill="#b8a0d0"/>
<ellipse cx="229.6" cy="117.6" rx="5.1" ry="5.75" fill="#d0a880"/>
<ellipse cx="216.0" cy="129.0" rx="5.1" ry="5.75" fill="#c8a078"/>
<ellipse cx="223.0" cy="131.0" rx="5.1" ry="5.75" fill="#c09870"/>
<ellipse cx="221.0" cy="134.4" rx="5.1" ry="5.75" fill="#c8a080"/>
<ellipse cx="256.0" cy="133.0" rx="5.1" ry="5.75" fill="#f090b0"/>
<ellipse cx="265.0" cy="129.6" rx="5.1" ry="5.75" fill="#f8a0a0"/>
<ellipse cx="258.4" cy="148.4" rx="5.1" ry="5.75" fill="#f08868"/>
<ellipse cx="228.6" cy="149.0" rx="5.1" ry="5.75" fill="#c88868"/>
<ellipse cx="201.0" cy="144.0" rx="5.1" ry="5.75" fill="#a080e0"/>
<ellipse cx="207.6" cy="141.0" rx="5.1" ry="5.75" fill="#a888c8"/>
<ellipse cx="208.0" cy="147.0" rx="5.1" ry="5.75" fill="#c0a090"/>
<ellipse cx="210.0" cy="155.0" rx="5.1" ry="5.75" fill="#c09878"/>
<ellipse cx="198.4" cy="151.0" rx="5.1" ry="5.75" fill="#a878c0"/>
<ellipse cx="205.4" cy="152.0" rx="5.1" ry="5.75" fill="#b88898"/>
<ellipse cx="236.0" cy="161.0" rx="5.1" ry="5.75" fill="#d07850"/>
<ellipse cx="240.6" cy="159.0" rx="5.1" ry="5.75" fill="#d87848"/>
<ellipse cx="237.0" cy="166.0" rx="5.1" ry="5.75" fill="#d87040"/>
<ellipse cx="239.0" cy="175.0" rx="5.1" ry="5.75" fill="#e07030"/>
<ellipse cx="198.0" cy="163.0" rx="5.1" ry="5.75" fill="#a070b0"/>
<ellipse cx="198.0" cy="171.0" rx="5.1" ry="5.75" fill="#b07888"/>
<ellipse cx="209.0" cy="171.0" rx="5.1" ry="5.75" fill="#b87078"/>
<ellipse cx="218.0" cy="168.0" rx="5.1" ry="5.75" fill="#c07068"/>
<ellipse cx="195.0" cy="178.0" rx="5.1" ry="5.75" fill="#a868a0"/>
<ellipse cx="203.0" cy="178.0" rx="5.1" ry="5.75" fill="#b06878"/>
<ellipse cx="191.0" cy="182.0" rx="5.1" ry="5.75" fill="#a060a8"/>
<ellipse cx="196.0" cy="189.0" rx="5.1" ry="5.75" fill="#a05890"/>
<ellipse cx="219.0" cy="184.0" rx="5.1" ry="5.75" fill="#c86850"/>
<ellipse cx="210.0" cy="194.0" rx="5.1" ry="5.75" fill="#c06060"/>
<ellipse cx="188.0" cy="193.0" rx="5.1" ry="5.75" fill="#9858b0"/>
<ellipse cx="224.0" cy="193.0" rx="5.1" ry="5.75" fill="#d06838"/>
<ellipse cx="225.6" cy="196.6" rx="5.1" ry="5.75" fill="#d86828"/>
<ellipse cx="174.0" cy="209.0" rx="5.1" ry="5.75" fill="#803098"/>
<ellipse cx="180.0" cy="205.0" rx="5.1" ry="5.75" fill="#903898"/>
<ellipse cx="192.0" cy="201.0" rx="5.1" ry="5.75" fill="#984888"/>
<ellipse cx="185.0" cy="211.0" rx="5.1" ry="5.75" fill="#983880"/>
<ellipse cx="190.0" cy="215.0" rx="5.1" ry="5.75" fill="#a04078"/>
<ellipse cx="180.0" cy="221.0" rx="5.1" ry="5.75" fill="#a03870"/>
<ellipse cx="188.0" cy="223.0" rx="5.1" ry="5.75" fill="#a84070"/>
<ellipse cx="200.0" cy="213.0" rx="5.1" ry="5.75" fill="#b04868"/>
<ellipse cx="204.0" cy="220.0" rx="5.1" ry="5.75" fill="#b84860"/>
<ellipse cx="219.0" cy="206.0" rx="5.1" ry="5.75" fill="#c05048"/>
<ellipse cx="212.0" cy="213.0" rx="5.1" ry="5.75" fill="#c85040"/>
<ellipse cx="196.0" cy="222.0" rx="5.1" ry="5.75" fill="#c04830"/>
<ellipse cx="151.0" cy="217.0" rx="5.1" ry="5.75" fill="#804010"/>
<ellipse cx="158.0" cy="215.0" rx="5.1" ry="5.75" fill="#804010"/>
<ellipse cx="166.0" cy="217.0" rx="5.1" ry="5.75" fill="#904010"/>
<ellipse cx="166.0" cy="223.0" rx="5.1" ry="5.75" fill="#984008"/>
<ellipse cx="173.0" cy="222.0" rx="5.1" ry="5.75" fill="#883800"/>
<ellipse cx="177.0" cy="221.4" rx="5.1" ry="5.75" fill="#904000"/>
<ellipse cx="113.0" cy="235.0" rx="5.1" ry="5.75" fill="#383090"/>
<ellipse cx="124.0" cy="236.0" rx="5.1" ry="5.75" fill="#402890"/>
<ellipse cx="140.0" cy="238.0" rx="5.1" ry="5.75" fill="#582888"/>
<ellipse cx="148.0" cy="229.0" rx="5.1" ry="5.75" fill="#784068"/>
<ellipse cx="154.0" cy="227.0" rx="5.1" ry="5.75" fill="#a04858"/>
<ellipse cx="151.0" cy="235.0" rx="5.1" ry="5.75" fill="#803878"/>
<ellipse cx="177.0" cy="233.0" rx="5.1" ry="5.75" fill="#a03060"/>
<ellipse cx="169.0" cy="236.0" rx="5.1" ry="5.75" fill="#902878"/>
<ellipse cx="164.0" cy="239.0" rx="5.1" ry="5.75" fill="#902888"/>
<ellipse cx="157.0" cy="243.0" rx="5.1" ry="5.75" fill="#8a2080"/>
<ellipse cx="152.0" cy="246.0" rx="5.1" ry="5.75" fill="#802088"/>
<ellipse cx="160.0" cy="246.0" rx="5.1" ry="5.75" fill="#902090"/>
<ellipse cx="165.0" cy="242.0" rx="5.1" ry="5.75" fill="#8a2888"/>
<ellipse cx="164.0" cy="229.0" rx="5.1" ry="5.75" fill="#a04020"/>
<ellipse cx="128.0" cy="248.0" rx="5.1" ry="5.75" fill="#4818a8"/>
<ellipse cx="119.0" cy="254.0" rx="5.1" ry="5.75" fill="#401898"/>
<ellipse cx="127.0" cy="257.0" rx="5.1" ry="5.75" fill="#501090"/>
<ellipse cx="134.4" cy="254.0" rx="5.1" ry="5.75" fill="#581088"/>
<ellipse cx="143.0" cy="255.0" rx="5.1" ry="5.75" fill="#681090"/>
<ellipse cx="160.0" cy="252.0" rx="5.1" ry="5.75" fill="#801898"/>
<ellipse cx="153.0" cy="258.0" rx="5.1" ry="5.75" fill="#781088"/>
<ellipse cx="148.0" cy="259.0" rx="5.1" ry="5.75" fill="#700890"/>
<ellipse cx="144.0" cy="261.0" rx="5.1" ry="5.75" fill="#700888"/>
<ellipse cx="137.0" cy="266.0" rx="5.1" ry="5.75" fill="#600888"/>
<ellipse cx="143.0" cy="268.0" rx="5.1" ry="5.75" fill="#680888"/>
<ellipse cx="145.0" cy="270.0" rx="5.1" ry="5.75" fill="#680080"/>
<ellipse cx="140.0" cy="272.4" rx="5.1" ry="5.75" fill="#600080"/>
<ellipse cx="154.0" cy="216.0" rx="5.1" ry="5.75" fill="#804010"/>
<ellipse cx="160.0" cy="217.0" rx="5.1" ry="5.75" fill="#8a4010"/>
<ellipse cx="166.0" cy="220.0" rx="5.1" ry="5.75" fill="#a04818"/>
<ellipse cx="170.0" cy="225.6" rx="5.1" ry="5.75" fill="#984010"/>
<ellipse cx="177.0" cy="221.0" rx="5.1" ry="5.75" fill="#a04000"/>
<ellipse cx="148.0" cy="244.0" rx="5.1" ry="5.75" fill="#8a2088"/>
<ellipse cx="154.0" cy="250.0" rx="5.1" ry="5.75" fill="#801890"/>
<ellipse cx="150.0" cy="254.0" rx="5.1" ry="5.75" fill="#781090"/>
<ellipse cx="139.0" cy="259.0" rx="5.1" ry="5.75" fill="#600890"/>
<ellipse cx="132.0" cy="252.0" rx="5.1" ry="5.75" fill="#501090"/>
<ellipse cx="146.0" cy="265.0" rx="5.1" ry="5.75" fill="#680888"/>
<ellipse cx="149.0" cy="270.0" rx="5.1" ry="5.75" fill="#700080"/>
<ellipse cx="136.0" cy="270.0" rx="5.1" ry="5.75" fill="#580080"/>
<ellipse cx="142.0" cy="275.0" rx="5.1" ry="5.75" fill="#600078"/>
<ellipse cx="156.0" cy="238.0" rx="5.1" ry="5.75" fill="#902080"/>
<ellipse cx="161.0" cy="241.0" rx="5.1" ry="5.75" fill="#902888"/>
<ellipse cx="172.0" cy="238.0" rx="5.1" ry="5.75" fill="#a03070"/>
<ellipse cx="180.0" cy="230.0" rx="5.1" ry="5.75" fill="#a83868"/>
<ellipse cx="168.0" cy="232.0" rx="5.1" ry="5.75" fill="#983078"/>
</g>
<line x1="167.6" y1="199.2" x2="149.2" y2="135.8" stroke="#00cd00" stroke-width="2"/>
<path d="M146.4,126.1L154.4,138.9L149.2,135.8L146.5,141.2Z" fill="#00cd00"/>
<text transform="translate(151.20,126.80) scale(0.815,1)" font-size="22.8" text-anchor="start" fill="#00cd00" stroke="#00cd00" stroke-width="0.27">P<tspan font-size="70%">a</tspan></text>
<line x1="167.6" y1="199.2" x2="214.7" y2="208.5" stroke="#ff0000" stroke-width="2"/>
<path d="M224.7,210.5L209.7,211.7L214.7,208.5L211.3,203.7Z" fill="#ff0000"/>
<text transform="translate(227.80,220.80) scale(0.815,1)" font-size="22.8" text-anchor="start" fill="#ff0000" stroke="#ff0000" stroke-width="0.27">Tm<tspan font-size="70%">a</tspan></text>
<rect x="65.6" y="41.6" width="207.6" height="238.0" fill="none" stroke="#000" stroke-width="1.6"/>
<line x1="79.0" y1="279.6" x2="79.0" y2="286.1" stroke="#000" stroke-width="1.6"/>
<text transform="translate(79.00,310.10) scale(0.835,1)" font-size="22.6" text-anchor="middle" fill="#000" stroke="#000" stroke-width="0.27">−6</text>
<line x1="108.5" y1="279.6" x2="108.5" y2="286.1" stroke="#000" stroke-width="1.6"/>
<text transform="translate(108.50,310.10) scale(0.835,1)" font-size="22.6" text-anchor="middle" fill="#000" stroke="#000" stroke-width="0.27">−4</text>
<line x1="138.0" y1="279.6" x2="138.0" y2="286.1" stroke="#000" stroke-width="1.6"/>
<text transform="translate(138.00,310.10) scale(0.835,1)" font-size="22.6" text-anchor="middle" fill="#000" stroke="#000" stroke-width="0.27">−2</text>
<line x1="167.5" y1="279.6" x2="167.5" y2="286.1" stroke="#000" stroke-width="1.6"/>
<text transform="translate(167.50,310.10) scale(0.835,1)" font-size="22.6" text-anchor="middle" fill="#000" stroke="#000" stroke-width="0.27">0</text>
<line x1="197.0" y1="279.6" x2="197.0" y2="286.1" stroke="#000" stroke-width="1.6"/>
<text transform="translate(197.00,310.10) scale(0.835,1)" font-size="22.6" text-anchor="middle" fill="#000" stroke="#000" stroke-width="0.27">2</text>
<line x1="226.5" y1="279.6" x2="226.5" y2="286.1" stroke="#000" stroke-width="1.6"/>
<text transform="translate(226.50,310.10) scale(0.835,1)" font-size="22.6" text-anchor="middle" fill="#000" stroke="#000" stroke-width="0.27">4</text>
<line x1="256.0" y1="279.6" x2="256.0" y2="286.1" stroke="#000" stroke-width="1.6"/>
<text transform="translate(256.00,310.10) scale(0.835,1)" font-size="22.6" text-anchor="middle" fill="#000" stroke="#000" stroke-width="0.27">6</text>
<line x1="59.4" y1="41.6" x2="65.6" y2="41.6" stroke="#000" stroke-width="1.6"/>
<text transform="translate(53.30,50.90) scale(0.835,1)" font-size="22.6" text-anchor="end" fill="#000" stroke="#000" stroke-width="0.27">8</text>
<line x1="59.4" y1="81.1" x2="65.6" y2="81.1" stroke="#000" stroke-width="1.6"/>
<text transform="translate(53.30,90.35) scale(0.835,1)" font-size="22.6" text-anchor="end" fill="#000" stroke="#000" stroke-width="0.27">6</text>
<line x1="59.4" y1="120.5" x2="65.6" y2="120.5" stroke="#000" stroke-width="1.6"/>
<text transform="translate(53.30,129.80) scale(0.835,1)" font-size="22.6" text-anchor="end" fill="#000" stroke="#000" stroke-width="0.27">4</text>
<line x1="59.4" y1="160.0" x2="65.6" y2="160.0" stroke="#000" stroke-width="1.6"/>
<text transform="translate(53.30,169.25) scale(0.835,1)" font-size="22.6" text-anchor="end" fill="#000" stroke="#000" stroke-width="0.27">2</text>
<line x1="59.4" y1="199.4" x2="65.6" y2="199.4" stroke="#000" stroke-width="1.6"/>
<text transform="translate(53.30,208.70) scale(0.835,1)" font-size="22.6" text-anchor="end" fill="#000" stroke="#000" stroke-width="0.27">0</text>
<line x1="59.4" y1="238.8" x2="65.6" y2="238.8" stroke="#000" stroke-width="1.6"/>
<text transform="translate(53.30,248.15) scale(0.835,1)" font-size="22.6" text-anchor="end" fill="#000" stroke="#000" stroke-width="0.27">−2</text>
<line x1="59.4" y1="278.3" x2="65.6" y2="278.3" stroke="#000" stroke-width="1.6"/>
<text transform="translate(53.30,287.60) scale(0.835,1)" font-size="22.6" text-anchor="end" fill="#000" stroke="#000" stroke-width="0.27">−4</text>
<text transform="translate(168.60,332.60) scale(0.835,1)" font-size="22.6" text-anchor="middle" fill="#000" stroke="#000" stroke-width="0.27">PC 1</text>
<text transform="translate(28.40,160.10) rotate(-90) scale(0.955,1)" font-size="23" text-anchor="middle" fill="#000" stroke="#000" stroke-width="0.27">PC 2</text>
<g stroke="#000" stroke-width="1.45">
<ellipse cx="390.8" cy="164.6" rx="5.1" ry="5.75" fill="#403090"/>
<ellipse cx="394.6" cy="166.5" rx="5.1" ry="5.75" fill="#462f8f"/>
<ellipse cx="403.0" cy="163.0" rx="5.1" ry="5.75" fill="#4c2d8f"/>
<ellipse cx="411.4" cy="162.7" rx="5.1" ry="5.75" fill="#522c8e"/>
<ellipse cx="408.3" cy="158.8" rx="5.1" ry="5.75" fill="#582b8d"/>
<ellipse cx="409.1" cy="168.4" rx="5.1" ry="5.75" fill="#5e298d"/>
<ellipse cx="418.7" cy="160.7" rx="5.1" ry="5.75" fill="#63288c"/>
<ellipse cx="429.5" cy="163.6" rx="5.1" ry="5.75" fill="#69278b"/>
<ellipse cx="426.5" cy="165.1" rx="5.1" ry="5.75" fill="#6f258b"/>
<ellipse cx="433.9" cy="170.6" rx="5.1" ry="5.75" fill="#75248a"/>
<ellipse cx="437.6" cy="166.9" rx="5.1" ry="5.75" fill="#7b2389"/>
<ellipse cx="436.9" cy="167.9" rx="5.1" ry="5.75" fill="#812289"/>
<ellipse cx="441.6" cy="167.4" rx="5.1" ry="5.75" fill="#872088"/>
<ellipse cx="443.1" cy="181.5" rx="5.1" ry="5.75" fill="#8c2385"/>
<ellipse cx="459.1" cy="171.4" rx="5.1" ry="5.75" fill="#902681"/>
<ellipse cx="448.8" cy="173.3" rx="5.1" ry="5.75" fill="#94297d"/>
<ellipse cx="462.9" cy="183.8" rx="5.1" ry="5.75" fill="#992c7a"/>
<ellipse cx="456.5" cy="182.4" rx="5.1" ry="5.75" fill="#9d2f76"/>
<ellipse cx="460.1" cy="183.2" rx="5.1" ry="5.75" fill="#a13272"/>
<ellipse cx="473.7" cy="192.1" rx="5.1" ry="5.75" fill="#a6356e"/>
<ellipse cx="471.8" cy="191.0" rx="5.1" ry="5.75" fill="#aa386b"/>
<ellipse cx="485.0" cy="194.6" rx="5.1" ry="5.75" fill="#af3c67"/>
<ellipse cx="475.7" cy="189.4" rx="5.1" ry="5.75" fill="#b33f63"/>
<ellipse cx="494.5" cy="190.0" rx="5.1" ry="5.75" fill="#b7425f"/>
<ellipse cx="495.9" cy="194.0" rx="5.1" ry="5.75" fill="#bc455c"/>
<ellipse cx="499.1" cy="194.8" rx="5.1" ry="5.75" fill="#c04858"/>
<ellipse cx="450.1" cy="145.7" rx="5.1" ry="5.75" fill="#9040a8"/>
<ellipse cx="453.6" cy="147.3" rx="5.1" ry="5.75" fill="#9545a2"/>
<ellipse cx="451.9" cy="155.8" rx="5.1" ry="5.75" fill="#99499d"/>
<ellipse cx="459.2" cy="158.4" rx="5.1" ry="5.75" fill="#9e4e97"/>
<ellipse cx="461.7" cy="164.0" rx="5.1" ry="5.75" fill="#a25291"/>
<ellipse cx="466.5" cy="168.9" rx="5.1" ry="5.75" fill="#a7578b"/>
<ellipse cx="471.1" cy="171.6" rx="5.1" ry="5.75" fill="#ab5b86"/>
<ellipse cx="476.2" cy="178.9" rx="5.1" ry="5.75" fill="#b06080"/>
<ellipse cx="471.9" cy="165.0" rx="5.1" ry="5.75" fill="#b87888"/>
<ellipse cx="480.6" cy="166.6" rx="5.1" ry="5.75" fill="#bc7b83"/>
<ellipse cx="490.4" cy="167.3" rx="5.1" ry="5.75" fill="#c07d7d"/>
<ellipse cx="493.0" cy="165.9" rx="5.1" ry="5.75" fill="#c48078"/>
<ellipse cx="497.3" cy="171.0" rx="5.1" ry="5.75" fill="#c88373"/>
<ellipse cx="506.3" cy="175.2" rx="5.1" ry="5.75" fill="#cc856d"/>
<ellipse cx="510.1" cy="171.9" rx="5.1" ry="5.75" fill="#d08868"/>
<ellipse cx="363.6" cy="65.4" rx="5.1" ry="5.75" fill="#0868d0"/>
<ellipse cx="362.4" cy="68.0" rx="5.1" ry="5.75" fill="#0880f0"/>
<ellipse cx="358.4" cy="75.6" rx="5.1" ry="5.75" fill="#1090e0"/>
<ellipse cx="372.4" cy="89.4" rx="5.1" ry="5.75" fill="#1838d8"/>
<ellipse cx="361.0" cy="108.4" rx="5.1" ry="5.75" fill="#1080b8"/>
<ellipse cx="364.4" cy="121.6" rx="5.1" ry="5.75" fill="#1078b0"/>
<ellipse cx="358.4" cy="156.4" rx="5.1" ry="5.75" fill="#10b088"/>
<ellipse cx="388.0" cy="173.0" rx="5.1" ry="5.75" fill="#306080"/>
<ellipse cx="380.4" cy="169.4" rx="5.1" ry="5.75" fill="#208878"/>
<ellipse cx="390.4" cy="140.0" rx="5.1" ry="5.75" fill="#3050a0"/>
<ellipse cx="386.4" cy="143.0" rx="5.1" ry="5.75" fill="#3060a0"/>
<ellipse cx="406.0" cy="135.6" rx="5.1" ry="5.75" fill="#4818a8"/>
<ellipse cx="416.4" cy="135.0" rx="5.1" ry="5.75" fill="#5010a0"/>
<ellipse cx="419.0" cy="140.0" rx="5.1" ry="5.75" fill="#5810a0"/>
<ellipse cx="427.4" cy="133.6" rx="5.1" ry="5.75" fill="#6810a8"/>
<ellipse cx="473.4" cy="50.0" rx="5.1" ry="5.75" fill="#a060f8"/>
<ellipse cx="479.4" cy="60.4" rx="5.1" ry="5.75" fill="#a888f0"/>
<ellipse cx="469.0" cy="71.6" rx="5.1" ry="5.75" fill="#a060e0"/>
<ellipse cx="470.0" cy="88.4" rx="5.1" ry="5.75" fill="#a060d8"/>
<ellipse cx="493.6" cy="93.6" rx="5.1" ry="5.75" fill="#b8a0d0"/>
<ellipse cx="475.0" cy="113.0" rx="5.1" ry="5.75" fill="#a878c0"/>
<ellipse cx="468.0" cy="109.0" rx="5.1" ry="5.75" fill="#a868c0"/>
<ellipse cx="477.0" cy="106.0" rx="5.1" ry="5.75" fill="#a888c8"/>
<ellipse cx="485.4" cy="115.0" rx="5.1" ry="5.75" fill="#b088b8"/>
<ellipse cx="451.6" cy="117.6" rx="5.1" ry="5.75" fill="#9050c0"/>
<ellipse cx="465.0" cy="123.0" rx="5.1" ry="5.75" fill="#a060b8"/>
<ellipse cx="469.0" cy="139.0" rx="5.1" ry="5.75" fill="#a06898"/>
<ellipse cx="472.6" cy="137.6" rx="5.1" ry="5.75" fill="#a87098"/>
<ellipse cx="483.6" cy="145.6" rx="5.1" ry="5.75" fill="#b08090"/>
<ellipse cx="445.6" cy="146.0" rx="5.1" ry="5.75" fill="#9040a8"/>
<ellipse cx="456.0" cy="151.0" rx="5.1" ry="5.75" fill="#9848a0"/>
<ellipse cx="473.0" cy="149.0" rx="5.1" ry="5.75" fill="#a86090"/>
<ellipse cx="471.0" cy="156.4" rx="5.1" ry="5.75" fill="#a85888"/>
<ellipse cx="507.4" cy="151.0" rx="5.1" ry="5.75" fill="#d0a880"/>
<ellipse cx="494.0" cy="160.0" rx="5.1" ry="5.75" fill="#c8a078"/>
<ellipse cx="499.0" cy="163.0" rx="5.1" ry="5.75" fill="#c8a080"/>
<ellipse cx="487.0" cy="169.0" rx="5.1" ry="5.75" fill="#c08870"/>
<ellipse cx="533.6" cy="111.0" rx="5.1" ry="5.75" fill="#f090b0"/>
<ellipse cx="543.0" cy="135.0" rx="5.1" ry="5.75" fill="#f8a0a0"/>
<ellipse cx="536.4" cy="179.0" rx="5.1" ry="5.75" fill="#f08860"/>
<ellipse cx="404.0" cy="165.0" rx="5.1" ry="5.75" fill="#402890"/>
<ellipse cx="397.0" cy="155.0" rx="5.1" ry="5.75" fill="#403898"/>
<ellipse cx="392.0" cy="160.0" rx="5.1" ry="5.75" fill="#383090"/>
<ellipse cx="399.0" cy="165.0" rx="5.1" ry="5.75" fill="#484090"/>
<ellipse cx="416.0" cy="161.0" rx="5.1" ry="5.75" fill="#5808a0"/>
<ellipse cx="422.0" cy="163.0" rx="5.1" ry="5.75" fill="#601098"/>
<ellipse cx="406.0" cy="173.0" rx="5.1" ry="5.75" fill="#500890"/>
<ellipse cx="412.0" cy="175.0" rx="5.1" ry="5.75" fill="#580890"/>
<ellipse cx="418.0" cy="170.0" rx="5.1" ry="5.75" fill="#601090"/>
<ellipse cx="422.0" cy="178.0" rx="5.1" ry="5.75" fill="#680888"/>
<ellipse cx="428.0" cy="173.0" rx="5.1" ry="5.75" fill="#701088"/>
<ellipse cx="431.0" cy="167.0" rx="5.1" ry="5.75" fill="#781890"/>
<ellipse cx="436.0" cy="157.0" rx="5.1" ry="5.75" fill="#801898"/>
<ellipse cx="434.0" cy="167.0" rx="5.1" ry="5.75" fill="#802090"/>
<ellipse cx="431.0" cy="180.0" rx="5.1" ry="5.75" fill="#780880"/>
<ellipse cx="439.0" cy="184.0" rx="5.1" ry="5.75" fill="#801080"/>
<ellipse cx="426.4" cy="188.0" rx="5.1" ry="5.75" fill="#702878"/>
<ellipse cx="447.0" cy="160.0" rx="5.1" ry="5.75" fill="#8a2890"/>
<ellipse cx="443.0" cy="173.0" rx="5.1" ry="5.75" fill="#882088"/>
<ellipse cx="448.0" cy="166.0" rx="5.1" ry="5.75" fill="#902888"/>
<ellipse cx="455.0" cy="163.0" rx="5.1" ry="5.75" fill="#983088"/>
<ellipse cx="460.0" cy="159.0" rx="5.1" ry="5.75" fill="#a03890"/>
<ellipse cx="451.0" cy="175.0" rx="5.1" ry="5.75" fill="#982880"/>
<ellipse cx="463.0" cy="167.0" rx="5.1" ry="5.75" fill="#a03880"/>
<ellipse cx="475.0" cy="167.0" rx="5.1" ry="5.75" fill="#b06080"/>
<ellipse cx="483.0" cy="173.0" rx="5.1" ry="5.75" fill="#b87078"/>
<ellipse cx="495.0" cy="174.0" rx="5.1" ry="5.75" fill="#c07878"/>
<ellipse cx="506.0" cy="174.0" rx="5.1" ry="5.75" fill="#d08868"/>
<ellipse cx="514.4" cy="172.0" rx="5.1" ry="5.75" fill="#d88070"/>
<ellipse cx="461.0" cy="178.0" rx="5.1" ry="5.75" fill="#a03878"/>
<ellipse cx="455.0" cy="185.0" rx="5.1" ry="5.75" fill="#983070"/>
<ellipse cx="468.0" cy="183.0" rx="5.1" ry="5.75" fill="#b03870"/>
<ellipse cx="480.0" cy="183.0" rx="5.1" ry="5.75" fill="#b84068"/>
<ellipse cx="493.0" cy="184.0" rx="5.1" ry="5.75" fill="#c84868"/>
<ellipse cx="482.0" cy="195.0" rx="5.1" ry="5.75" fill="#c04060"/>
<ellipse cx="491.0" cy="193.0" rx="5.1" ry="5.75" fill="#c04858"/>
<ellipse cx="478.0" cy="202.0" rx="5.1" ry="5.75" fill="#b84850"/>
<ellipse cx="488.0" cy="200.0" rx="5.1" ry="5.75" fill="#c05058"/>
<ellipse cx="496.0" cy="205.0" rx="5.1" ry="5.75" fill="#c85048"/>
<ellipse cx="516.0" cy="191.0" rx="5.1" ry="5.75" fill="#d87848"/>
<ellipse cx="519.0" cy="195.0" rx="5.1" ry="5.75" fill="#e07838"/>
<ellipse cx="494.0" cy="215.0" rx="5.1" ry="5.75" fill="#c85040"/>
<ellipse cx="500.0" cy="217.0" rx="5.1" ry="5.75" fill="#d05838"/>
<ellipse cx="502.0" cy="225.0" rx="5.1" ry="5.75" fill="#d86030"/>
<ellipse cx="503.0" cy="231.0" rx="5.1" ry="5.75" fill="#e06828"/>
<ellipse cx="517.0" cy="223.0" rx="5.1" ry="5.75" fill="#e07030"/>
<ellipse cx="474.4" cy="221.0" rx="5.1" ry="5.75" fill="#a84030"/>
<ellipse cx="455.0" cy="212.0" rx="5.1" ry="5.75" fill="#983050"/>
<ellipse cx="440.0" cy="207.0" rx="5.1" ry="5.75" fill="#803858"/>
<ellipse cx="427.4" cy="205.0" rx="5.1" ry="5.75" fill="#703858"/>
<ellipse cx="430.4" cy="209.0" rx="5.1" ry="5.75" fill="#783850"/>
<ellipse cx="420.4" cy="215.0" rx="5.1" ry="5.75" fill="#684048"/>
<ellipse cx="407.4" cy="202.6" rx="5.1" ry="5.75" fill="#505058"/>
<ellipse cx="405.4" cy="220.6" rx="5.1" ry="5.75" fill="#487040"/>
<ellipse cx="420.0" cy="225.0" rx="5.1" ry="5.75" fill="#608038"/>
<ellipse cx="357.6" cy="206.0" rx="5.1" ry="5.75" fill="#10d040"/>
<ellipse cx="351.0" cy="215.6" rx="5.1" ry="5.75" fill="#00ff40"/>
<ellipse cx="355.6" cy="213.0" rx="5.1" ry="5.75" fill="#00f848"/>
<ellipse cx="364.4" cy="224.6" rx="5.1" ry="5.75" fill="#10d038"/>
<ellipse cx="354.4" cy="239.6" rx="5.1" ry="5.75" fill="#00ff40"/>
<ellipse cx="367.0" cy="253.0" rx="5.1" ry="5.75" fill="#10e020"/>
<ellipse cx="381.6" cy="255.0" rx="5.1" ry="5.75" fill="#20a818"/>
<ellipse cx="414.0" cy="243.0" rx="5.1" ry="5.75" fill="#589828"/>
<ellipse cx="409.4" cy="253.4" rx="5.1" ry="5.75" fill="#48a018"/>
<ellipse cx="436.6" cy="235.0" rx="5.1" ry="5.75" fill="#705820"/>
<ellipse cx="427.4" cy="242.4" rx="5.1" ry="5.75" fill="#6a5a20"/>
<ellipse cx="422.6" cy="250.6" rx="5.1" ry="5.75" fill="#685020"/>
<ellipse cx="430.0" cy="258.0" rx="5.1" ry="5.75" fill="#804810"/>
<ellipse cx="435.6" cy="259.4" rx="5.1" ry="5.75" fill="#884008"/>
<ellipse cx="444.0" cy="255.4" rx="5.1" ry="5.75" fill="#904010"/>
<ellipse cx="452.0" cy="261.0" rx="5.1" ry="5.75" fill="#984008"/>
<ellipse cx="444.0" cy="265.0" rx="5.1" ry="5.75" fill="#903c08"/>
<ellipse cx="451.0" cy="270.0" rx="5.1" ry="5.75" fill="#983c00"/>
<ellipse cx="455.0" cy="269.6" rx="5.1" ry="5.75" fill="#a04000"/>
<ellipse cx="473.6" cy="244.4" rx="5.1" ry="5.75" fill="#b84028"/>
<ellipse cx="489.6" cy="237.4" rx="5.1" ry="5.75" fill="#c85030"/>
<ellipse cx="503.6" cy="233.4" rx="5.1" ry="5.75" fill="#d86030"/>
<ellipse cx="502.0" cy="227.0" rx="5.1" ry="5.75" fill="#d86838"/>
<ellipse cx="517.0" cy="222.4" rx="5.1" ry="5.75" fill="#e07840"/>
</g>
<line x1="445.4" y1="176.2" x2="437.5" y2="245.1" stroke="#0000ff" stroke-width="2"/>
<path d="M436.4,255.2L434.0,240.3L437.5,245.1L442.1,241.3Z" fill="#0000ff"/>
<text transform="translate(443.00,236.50) scale(0.815,1)" font-size="22.8" text-anchor="start" fill="#0000ff" stroke="#0000ff" stroke-width="0.27">DR<tspan font-size="68%">m</tspan></text>
<line x1="445.4" y1="176.2" x2="484.0" y2="206.7" stroke="#ff0000" stroke-width="2"/>
<path d="M492.0,213.0L478.1,207.2L484.0,206.7L483.2,200.8Z" fill="#ff0000"/>
<text transform="translate(505.00,215.00) scale(0.815,1)" font-size="22.8" text-anchor="start" fill="#ff0000" stroke="#ff0000" stroke-width="0.27">Tm<tspan font-size="68%">a</tspan></text>
<rect x="343.4" y="41.6" width="207.4" height="238.0" fill="none" stroke="#000" stroke-width="1.6"/>
<line x1="357.0" y1="279.6" x2="357.0" y2="286.1" stroke="#000" stroke-width="1.6"/>
<text transform="translate(357.00,310.10) scale(0.835,1)" font-size="22.6" text-anchor="middle" fill="#000" stroke="#000" stroke-width="0.27">−6</text>
<line x1="386.5" y1="279.6" x2="386.5" y2="286.1" stroke="#000" stroke-width="1.6"/>
<text transform="translate(386.53,310.10) scale(0.835,1)" font-size="22.6" text-anchor="middle" fill="#000" stroke="#000" stroke-width="0.27">−4</text>
<line x1="416.1" y1="279.6" x2="416.1" y2="286.1" stroke="#000" stroke-width="1.6"/>
<text transform="translate(416.06,310.10) scale(0.835,1)" font-size="22.6" text-anchor="middle" fill="#000" stroke="#000" stroke-width="0.27">−2</text>
<line x1="445.6" y1="279.6" x2="445.6" y2="286.1" stroke="#000" stroke-width="1.6"/>
<text transform="translate(445.59,310.10) scale(0.835,1)" font-size="22.6" text-anchor="middle" fill="#000" stroke="#000" stroke-width="0.27">0</text>
<line x1="475.1" y1="279.6" x2="475.1" y2="286.1" stroke="#000" stroke-width="1.6"/>
<text transform="translate(475.12,310.10) scale(0.835,1)" font-size="22.6" text-anchor="middle" fill="#000" stroke="#000" stroke-width="0.27">2</text>
<line x1="504.6" y1="279.6" x2="504.6" y2="286.1" stroke="#000" stroke-width="1.6"/>
<text transform="translate(504.65,310.10) scale(0.835,1)" font-size="22.6" text-anchor="middle" fill="#000" stroke="#000" stroke-width="0.27">4</text>
<line x1="534.2" y1="279.6" x2="534.2" y2="286.1" stroke="#000" stroke-width="1.6"/>
<text transform="translate(534.18,310.10) scale(0.835,1)" font-size="22.6" text-anchor="middle" fill="#000" stroke="#000" stroke-width="0.27">6</text>
<line x1="337.2" y1="62.4" x2="343.4" y2="62.4" stroke="#000" stroke-width="1.6"/>
<text transform="translate(331.10,71.70) scale(0.835,1)" font-size="22.6" text-anchor="end" fill="#000" stroke="#000" stroke-width="0.27">4</text>
<line x1="337.2" y1="119.2" x2="343.4" y2="119.2" stroke="#000" stroke-width="1.6"/>
<text transform="translate(331.10,128.50) scale(0.835,1)" font-size="22.6" text-anchor="end" fill="#000" stroke="#000" stroke-width="0.27">2</text>
<line x1="337.2" y1="176.0" x2="343.4" y2="176.0" stroke="#000" stroke-width="1.6"/>
<text transform="translate(331.10,185.30) scale(0.835,1)" font-size="22.6" text-anchor="end" fill="#000" stroke="#000" stroke-width="0.27">0</text>
<line x1="337.2" y1="232.8" x2="343.4" y2="232.8" stroke="#000" stroke-width="1.6"/>
<text transform="translate(331.10,242.10) scale(0.835,1)" font-size="22.6" text-anchor="end" fill="#000" stroke="#000" stroke-width="0.27">−2</text>
<text transform="translate(446.30,332.60) scale(0.835,1)" font-size="22.6" text-anchor="middle" fill="#000" stroke="#000" stroke-width="0.27">PC 1</text>
<text transform="translate(306.20,160.10) rotate(-90) scale(0.955,1)" font-size="23" text-anchor="middle" fill="#000" stroke="#000" stroke-width="0.27">PC 3</text>
<g stroke="#000" stroke-width="1.45">
<ellipse cx="76.8" cy="482.0" rx="5.1" ry="5.75" fill="#500890"/>
<ellipse cx="80.1" cy="477.5" rx="5.1" ry="5.75" fill="#570c8e"/>
<ellipse cx="75.3" cy="471.9" rx="5.1" ry="5.75" fill="#5e0f8c"/>
<ellipse cx="81.2" cy="477.9" rx="5.1" ry="5.75" fill="#65138a"/>
<ellipse cx="85.8" cy="480.0" rx="5.1" ry="5.75" fill="#6c1687"/>
<ellipse cx="89.6" cy="481.9" rx="5.1" ry="5.75" fill="#741a85"/>
<ellipse cx="95.6" cy="485.1" rx="5.1" ry="5.75" fill="#7b1d83"/>
<ellipse cx="97.2" cy="482.5" rx="5.1" ry="5.75" fill="#822181"/>
<ellipse cx="96.3" cy="490.6" rx="5.1" ry="5.75" fill="#89247f"/>
<ellipse cx="100.3" cy="482.0" rx="5.1" ry="5.75" fill="#90287d"/>
<ellipse cx="100.2" cy="492.8" rx="5.1" ry="5.75" fill="#972c7b"/>
<ellipse cx="104.4" cy="485.5" rx="5.1" ry="5.75" fill="#9e2f79"/>
<ellipse cx="106.4" cy="486.3" rx="5.1" ry="5.75" fill="#a33375"/>
<ellipse cx="113.0" cy="497.4" rx="5.1" ry="5.75" fill="#a73771"/>
<ellipse cx="114.9" cy="501.1" rx="5.1" ry="5.75" fill="#ab3b6d"/>
<ellipse cx="113.3" cy="495.5" rx="5.1" ry="5.75" fill="#af3f69"/>
<ellipse cx="120.4" cy="503.3" rx="5.1" ry="5.75" fill="#b34365"/>
<ellipse cx="130.0" cy="500.1" rx="5.1" ry="5.75" fill="#b74761"/>
<ellipse cx="126.0" cy="502.0" rx="5.1" ry="5.75" fill="#bb4b5d"/>
<ellipse cx="133.3" cy="509.2" rx="5.1" ry="5.75" fill="#bf4f59"/>
<ellipse cx="124.0" cy="512.0" rx="5.1" ry="5.75" fill="#c15055"/>
<ellipse cx="132.6" cy="508.1" rx="5.1" ry="5.75" fill="#c25051"/>
<ellipse cx="127.5" cy="521.3" rx="5.1" ry="5.75" fill="#c4504d"/>
<ellipse cx="133.6" cy="522.1" rx="5.1" ry="5.75" fill="#c55048"/>
<ellipse cx="120.8" cy="523.8" rx="5.1" ry="5.75" fill="#c75044"/>
<ellipse cx="122.0" cy="529.6" rx="5.1" ry="5.75" fill="#c85040"/>
<ellipse cx="147.1" cy="480.0" rx="5.1" ry="5.75" fill="#b87078"/>
<ellipse cx="156.0" cy="479.4" rx="5.1" ry="5.75" fill="#c07573"/>
<ellipse cx="159.9" cy="481.5" rx="5.1" ry="5.75" fill="#c87a6e"/>
<ellipse cx="167.5" cy="483.3" rx="5.1" ry="5.75" fill="#d07e6a"/>
<ellipse cx="171.5" cy="485.5" rx="5.1" ry="5.75" fill="#d88365"/>
<ellipse cx="178.0" cy="490.3" rx="5.1" ry="5.75" fill="#e08860"/>
<ellipse cx="92.2" cy="466.2" rx="5.1" ry="5.75" fill="#701898"/>
<ellipse cx="96.2" cy="472.8" rx="5.1" ry="5.75" fill="#771f96"/>
<ellipse cx="100.3" cy="469.5" rx="5.1" ry="5.75" fill="#7e2693"/>
<ellipse cx="103.0" cy="474.7" rx="5.1" ry="5.75" fill="#852d91"/>
<ellipse cx="107.9" cy="470.1" rx="5.1" ry="5.75" fill="#8b338f"/>
<ellipse cx="117.2" cy="477.9" rx="5.1" ry="5.75" fill="#923a8d"/>
<ellipse cx="116.9" cy="475.2" rx="5.1" ry="5.75" fill="#99418a"/>
<ellipse cx="128.5" cy="476.9" rx="5.1" ry="5.75" fill="#a04888"/>
<ellipse cx="149.0" cy="362.6" rx="5.1" ry="5.75" fill="#a060f8"/>
<ellipse cx="181.4" cy="373.0" rx="5.1" ry="5.75" fill="#a888f0"/>
<ellipse cx="151.4" cy="379.0" rx="5.1" ry="5.75" fill="#0868d0"/>
<ellipse cx="145.6" cy="384.0" rx="5.1" ry="5.75" fill="#a060e0"/>
<ellipse cx="167.0" cy="381.6" rx="5.1" ry="5.75" fill="#0880f0"/>
<ellipse cx="179.6" cy="387.6" rx="5.1" ry="5.75" fill="#1090e0"/>
<ellipse cx="120.4" cy="402.4" rx="5.1" ry="5.75" fill="#1838d8"/>
<ellipse cx="146.4" cy="401.4" rx="5.1" ry="5.75" fill="#a060d8"/>
<ellipse cx="203.4" cy="406.0" rx="5.1" ry="5.75" fill="#b8a0d0"/>
<ellipse cx="145.0" cy="421.6" rx="5.1" ry="5.75" fill="#a868c0"/>
<ellipse cx="172.6" cy="423.0" rx="5.1" ry="5.75" fill="#1080b8"/>
<ellipse cx="175.6" cy="418.4" rx="5.1" ry="5.75" fill="#a888c8"/>
<ellipse cx="165.0" cy="425.6" rx="5.1" ry="5.75" fill="#a878c0"/>
<ellipse cx="184.0" cy="428.0" rx="5.1" ry="5.75" fill="#b088b8"/>
<ellipse cx="193.0" cy="423.6" rx="5.1" ry="5.75" fill="#f090b0"/>
<ellipse cx="125.6" cy="430.6" rx="5.1" ry="5.75" fill="#9050c0"/>
<ellipse cx="139.4" cy="436.0" rx="5.1" ry="5.75" fill="#a060b8"/>
<ellipse cx="162.4" cy="434.6" rx="5.1" ry="5.75" fill="#1078b0"/>
<ellipse cx="195.6" cy="447.6" rx="5.1" ry="5.75" fill="#f8a0a0"/>
<ellipse cx="92.0" cy="448.0" rx="5.1" ry="5.75" fill="#5010a0"/>
<ellipse cx="85.0" cy="446.0" rx="5.1" ry="5.75" fill="#6810a8"/>
<ellipse cx="80.6" cy="452.0" rx="5.1" ry="5.75" fill="#5810a0"/>
<ellipse cx="121.0" cy="452.6" rx="5.1" ry="5.75" fill="#3050a0"/>
<ellipse cx="134.4" cy="455.0" rx="5.1" ry="5.75" fill="#3060a0"/>
<ellipse cx="151.0" cy="452.0" rx="5.1" ry="5.75" fill="#a06898"/>
<ellipse cx="158.0" cy="449.6" rx="5.1" ry="5.75" fill="#a87098"/>
<ellipse cx="175.6" cy="458.6" rx="5.1" ry="5.75" fill="#b08090"/>
<ellipse cx="143.4" cy="462.0" rx="5.1" ry="5.75" fill="#a86090"/>
<ellipse cx="113.4" cy="458.0" rx="5.1" ry="5.75" fill="#9040a8"/>
<ellipse cx="118.0" cy="464.0" rx="5.1" ry="5.75" fill="#9848a0"/>
<ellipse cx="209.0" cy="469.0" rx="5.1" ry="5.75" fill="#10b088"/>
<ellipse cx="205.4" cy="464.6" rx="5.1" ry="5.75" fill="#d0a880"/>
<ellipse cx="192.0" cy="480.0" rx="5.1" ry="5.75" fill="#c8a070"/>
<ellipse cx="194.4" cy="472.0" rx="5.1" ry="5.75" fill="#c8a078"/>
<ellipse cx="191.0" cy="476.0" rx="5.1" ry="5.75" fill="#c8a080"/>
<ellipse cx="179.4" cy="480.6" rx="5.1" ry="5.75" fill="#c09870"/>
<ellipse cx="88.0" cy="468.0" rx="5.1" ry="5.75" fill="#4818a8"/>
<ellipse cx="73.0" cy="474.0" rx="5.1" ry="5.75" fill="#500890"/>
<ellipse cx="77.0" cy="482.0" rx="5.1" ry="5.75" fill="#580890"/>
<ellipse cx="72.0" cy="490.0" rx="5.1" ry="5.75" fill="#600888"/>
<ellipse cx="80.0" cy="488.0" rx="5.1" ry="5.75" fill="#680888"/>
<ellipse cx="84.0" cy="492.0" rx="5.1" ry="5.75" fill="#700880"/>
<ellipse cx="94.0" cy="470.0" rx="5.1" ry="5.75" fill="#8a2088"/>
<ellipse cx="103.0" cy="472.0" rx="5.1" ry="5.75" fill="#902888"/>
<ellipse cx="100.0" cy="480.0" rx="5.1" ry="5.75" fill="#6a2890"/>
<ellipse cx="110.0" cy="478.0" rx="5.1" ry="5.75" fill="#983088"/>
<ellipse cx="96.0" cy="486.0" rx="5.1" ry="5.75" fill="#802080"/>
<ellipse cx="131.0" cy="469.4" rx="5.1" ry="5.75" fill="#a85888"/>
<ellipse cx="123.0" cy="479.0" rx="5.1" ry="5.75" fill="#a04080"/>
<ellipse cx="138.0" cy="486.0" rx="5.1" ry="5.75" fill="#205880"/>
<ellipse cx="136.6" cy="481.6" rx="5.1" ry="5.75" fill="#a06080"/>
<ellipse cx="103.0" cy="488.0" rx="5.1" ry="5.75" fill="#982880"/>
<ellipse cx="110.0" cy="490.0" rx="5.1" ry="5.75" fill="#a83078"/>
<ellipse cx="117.0" cy="492.0" rx="5.1" ry="5.75" fill="#b03870"/>
<ellipse cx="96.0" cy="496.0" rx="5.1" ry="5.75" fill="#8a1878"/>
<ellipse cx="105.0" cy="501.0" rx="5.1" ry="5.75" fill="#983070"/>
<ellipse cx="125.0" cy="498.0" rx="5.1" ry="5.75" fill="#c84868"/>
<ellipse cx="117.0" cy="507.0" rx="5.1" ry="5.75" fill="#b84060"/>
<ellipse cx="131.0" cy="506.0" rx="5.1" ry="5.75" fill="#c05058"/>
<ellipse cx="125.0" cy="513.0" rx="5.1" ry="5.75" fill="#c05050"/>
<ellipse cx="152.0" cy="479.0" rx="5.1" ry="5.75" fill="#b87078"/>
<ellipse cx="153.0" cy="486.6" rx="5.1" ry="5.75" fill="#c07878"/>
<ellipse cx="158.0" cy="493.0" rx="5.1" ry="5.75" fill="#c08070"/>
<ellipse cx="161.0" cy="486.6" rx="5.1" ry="5.75" fill="#d08868"/>
<ellipse cx="169.0" cy="484.6" rx="5.1" ry="5.75" fill="#d88070"/>
<ellipse cx="179.4" cy="492.0" rx="5.1" ry="5.75" fill="#f08860"/>
<ellipse cx="165.0" cy="503.0" rx="5.1" ry="5.75" fill="#e07838"/>
<ellipse cx="169.6" cy="508.0" rx="5.1" ry="5.75" fill="#e08050"/>
<ellipse cx="140.0" cy="512.0" rx="5.1" ry="5.75" fill="#c05848"/>
<ellipse cx="129.0" cy="518.0" rx="5.1" ry="5.75" fill="#c85040"/>
<ellipse cx="148.4" cy="519.6" rx="5.1" ry="5.75" fill="#d06040"/>
<ellipse cx="110.0" cy="519.0" rx="5.1" ry="5.75" fill="#803858"/>
<ellipse cx="115.0" cy="524.0" rx="5.1" ry="5.75" fill="#783850"/>
<ellipse cx="105.6" cy="524.6" rx="5.1" ry="5.75" fill="#983050"/>
<ellipse cx="120.0" cy="534.0" rx="5.1" ry="5.75" fill="#a84030"/>
<ellipse cx="136.0" cy="530.0" rx="5.1" ry="5.75" fill="#d05838"/>
<ellipse cx="140.0" cy="541.0" rx="5.1" ry="5.75" fill="#e06828"/>
<ellipse cx="153.0" cy="531.0" rx="5.1" ry="5.75" fill="#487040"/>
<ellipse cx="155.6" cy="535.0" rx="5.1" ry="5.75" fill="#e07030"/>
<ellipse cx="165.0" cy="538.0" rx="5.1" ry="5.75" fill="#608038"/>
<ellipse cx="224.0" cy="518.6" rx="5.1" ry="5.75" fill="#10c848"/>
<ellipse cx="228.0" cy="537.6" rx="5.1" ry="5.75" fill="#10d038"/>
<ellipse cx="257.4" cy="528.0" rx="5.1" ry="5.75" fill="#00ff40"/>
<ellipse cx="265.0" cy="525.6" rx="5.1" ry="5.75" fill="#00f848"/>
<ellipse cx="265.0" cy="553.0" rx="5.1" ry="5.75" fill="#00ff40"/>
<ellipse cx="241.0" cy="565.6" rx="5.1" ry="5.75" fill="#10e020"/>
<ellipse cx="188.4" cy="556.0" rx="5.1" ry="5.75" fill="#589828"/>
<ellipse cx="206.0" cy="568.6" rx="5.1" ry="5.75" fill="#40a818"/>
<ellipse cx="200.0" cy="566.0" rx="5.1" ry="5.75" fill="#48a018"/>
<ellipse cx="139.0" cy="548.0" rx="5.1" ry="5.75" fill="#806020"/>
<ellipse cx="137.0" cy="555.6" rx="5.1" ry="5.75" fill="#705820"/>
<ellipse cx="138.0" cy="541.0" rx="5.1" ry="5.75" fill="#e06828"/>
<ellipse cx="124.0" cy="550.0" rx="5.1" ry="5.75" fill="#d05020"/>
<ellipse cx="115.0" cy="558.0" rx="5.1" ry="5.75" fill="#c04818"/>
<ellipse cx="127.0" cy="564.0" rx="5.1" ry="5.75" fill="#705020"/>
<ellipse cx="110.0" cy="567.0" rx="5.1" ry="5.75" fill="#984010"/>
<ellipse cx="120.0" cy="574.0" rx="5.1" ry="5.75" fill="#804810"/>
<ellipse cx="120.0" cy="569.0" rx="5.1" ry="5.75" fill="#904010"/>
<ellipse cx="113.0" cy="574.0" rx="5.1" ry="5.75" fill="#984008"/>
<ellipse cx="115.0" cy="582.0" rx="5.1" ry="5.75" fill="#a04000"/>
</g>
<line x1="134.8" y1="489.3" x2="122.4" y2="556.0" stroke="#0000ff" stroke-width="2"/>
<path d="M120.6,566.0L119.2,551.0L122.4,556.0L127.3,552.5Z" fill="#0000ff"/>
<text transform="translate(81.00,549.50) scale(0.815,1)" font-size="22.8" text-anchor="start" fill="#0000ff" stroke="#0000ff" stroke-width="0.27">DR<tspan font-size="68%">m</tspan></text>
<line x1="134.8" y1="489.3" x2="176.7" y2="502.0" stroke="#00cd00" stroke-width="2"/>
<path d="M186.4,505.0L171.3,504.7L176.7,502.0L173.7,496.9Z" fill="#00cd00"/>
<text transform="translate(191.00,515.00) scale(0.815,1)" font-size="22.8" text-anchor="start" fill="#00cd00" stroke="#00cd00" stroke-width="0.27">P<tspan font-size="68%">a</tspan></text>
<rect x="65.6" y="354.6" width="207.6" height="237.4" fill="none" stroke="#000" stroke-width="1.6"/>
<line x1="66.6" y1="592.0" x2="66.6" y2="598.5" stroke="#000" stroke-width="1.6"/>
<text transform="translate(66.60,622.50) scale(0.835,1)" font-size="22.6" text-anchor="middle" fill="#000" stroke="#000" stroke-width="0.27">−4</text>
<line x1="100.8" y1="592.0" x2="100.8" y2="598.5" stroke="#000" stroke-width="1.6"/>
<text transform="translate(100.77,622.50) scale(0.835,1)" font-size="22.6" text-anchor="middle" fill="#000" stroke="#000" stroke-width="0.27">−2</text>
<line x1="134.9" y1="592.0" x2="134.9" y2="598.5" stroke="#000" stroke-width="1.6"/>
<text transform="translate(134.94,622.50) scale(0.835,1)" font-size="22.6" text-anchor="middle" fill="#000" stroke="#000" stroke-width="0.27">0</text>
<line x1="169.1" y1="592.0" x2="169.1" y2="598.5" stroke="#000" stroke-width="1.6"/>
<text transform="translate(169.11,622.50) scale(0.835,1)" font-size="22.6" text-anchor="middle" fill="#000" stroke="#000" stroke-width="0.27">2</text>
<line x1="203.3" y1="592.0" x2="203.3" y2="598.5" stroke="#000" stroke-width="1.6"/>
<text transform="translate(203.28,622.50) scale(0.835,1)" font-size="22.6" text-anchor="middle" fill="#000" stroke="#000" stroke-width="0.27">4</text>
<line x1="237.5" y1="592.0" x2="237.5" y2="598.5" stroke="#000" stroke-width="1.6"/>
<text transform="translate(237.45,622.50) scale(0.835,1)" font-size="22.6" text-anchor="middle" fill="#000" stroke="#000" stroke-width="0.27">6</text>
<line x1="271.6" y1="592.0" x2="271.6" y2="598.5" stroke="#000" stroke-width="1.6"/>
<text transform="translate(271.62,622.50) scale(0.835,1)" font-size="22.6" text-anchor="middle" fill="#000" stroke="#000" stroke-width="0.27">8</text>
<line x1="59.4" y1="375.4" x2="65.6" y2="375.4" stroke="#000" stroke-width="1.6"/>
<text transform="translate(53.30,384.70) scale(0.835,1)" font-size="22.6" text-anchor="end" fill="#000" stroke="#000" stroke-width="0.27">4</text>
<line x1="59.4" y1="432.3" x2="65.6" y2="432.3" stroke="#000" stroke-width="1.6"/>
<text transform="translate(53.30,441.60) scale(0.835,1)" font-size="22.6" text-anchor="end" fill="#000" stroke="#000" stroke-width="0.27">2</text>
<line x1="59.4" y1="489.2" x2="65.6" y2="489.2" stroke="#000" stroke-width="1.6"/>
<text transform="translate(53.30,498.50) scale(0.835,1)" font-size="22.6" text-anchor="end" fill="#000" stroke="#000" stroke-width="0.27">0</text>
<line x1="59.4" y1="546.1" x2="65.6" y2="546.1" stroke="#000" stroke-width="1.6"/>
<text transform="translate(53.30,555.40) scale(0.835,1)" font-size="22.6" text-anchor="end" fill="#000" stroke="#000" stroke-width="0.27">−2</text>
<text transform="translate(168.60,645.00) scale(0.835,1)" font-size="22.6" text-anchor="middle" fill="#000" stroke="#000" stroke-width="0.27">PC 2</text>
<text transform="translate(28.40,472.80) rotate(-90) scale(0.955,1)" font-size="23" text-anchor="middle" fill="#000" stroke="#000" stroke-width="0.27">PC 3</text>
<rect x="350.3" y="353.8" width="34.0" height="236.5" fill="#ff0000" stroke="#000" stroke-width="1.6"/>
<rect x="390.5" y="431.6" width="33.3" height="158.7" fill="#00cd00" stroke="#000" stroke-width="1.6"/>
<rect x="430.1" y="518.7" width="33.3" height="71.6" fill="#0000ff" stroke="#000" stroke-width="1.6"/>
<rect x="469.7" y="558.3" width="33.7" height="32.0" fill="#bebebe" stroke="#000" stroke-width="1.6"/>
<rect x="509.6" y="578.4" width="33.7" height="11.9" fill="#bebebe" stroke="#000" stroke-width="1.6"/>
<line x1="343.2" y1="370.3" x2="343.2" y2="590.3" stroke="#000" stroke-width="1.6"/>
<line x1="336.8" y1="370.3" x2="343.2" y2="370.3" stroke="#000" stroke-width="1.6"/>
<text transform="translate(331.50,378.30) scale(0.835,1)" font-size="22.6" text-anchor="end" fill="#000" stroke="#000" stroke-width="0.27">8</text>
<line x1="336.8" y1="425.3" x2="343.2" y2="425.3" stroke="#000" stroke-width="1.6"/>
<text transform="translate(331.50,433.30) scale(0.835,1)" font-size="22.6" text-anchor="end" fill="#000" stroke="#000" stroke-width="0.27">6</text>
<line x1="336.8" y1="480.3" x2="343.2" y2="480.3" stroke="#000" stroke-width="1.6"/>
<text transform="translate(331.50,488.30) scale(0.835,1)" font-size="22.6" text-anchor="end" fill="#000" stroke="#000" stroke-width="0.27">4</text>
<line x1="336.8" y1="535.3" x2="343.2" y2="535.3" stroke="#000" stroke-width="1.6"/>
<text transform="translate(331.50,543.30) scale(0.835,1)" font-size="22.6" text-anchor="end" fill="#000" stroke="#000" stroke-width="0.27">2</text>
<line x1="336.8" y1="590.3" x2="343.2" y2="590.3" stroke="#000" stroke-width="1.6"/>
<text transform="translate(331.50,598.30) scale(0.835,1)" font-size="22.6" text-anchor="end" fill="#000" stroke="#000" stroke-width="0.27">0</text>
<text transform="translate(367.30,623.00) scale(0.835,1)" font-size="22.6" text-anchor="middle" fill="#000" stroke="#000" stroke-width="0.27">1</text>
<text transform="translate(407.15,623.00) scale(0.835,1)" font-size="22.6" text-anchor="middle" fill="#000" stroke="#000" stroke-width="0.27">2</text>
<text transform="translate(446.75,623.00) scale(0.835,1)" font-size="22.6" text-anchor="middle" fill="#000" stroke="#000" stroke-width="0.27">3</text>
<text transform="translate(486.55,623.00) scale(0.835,1)" font-size="22.6" text-anchor="middle" fill="#000" stroke="#000" stroke-width="0.27">4</text>
<text transform="translate(526.45,623.00) scale(0.835,1)" font-size="22.6" text-anchor="middle" fill="#000" stroke="#000" stroke-width="0.27">5</text>
<text transform="translate(447.00,647.00) scale(0.835,1)" font-size="22.6" text-anchor="middle" fill="#000" stroke="#000" stroke-width="0.27">PC</text>
<text transform="translate(306.10,473.50) rotate(-90) scale(0.955,1)" font-size="23" text-anchor="middle" fill="#000" stroke="#000" stroke-width="0.27">Variances</text>
<rect x="948.6" y="228.2" width="68.4" height="19.6" fill="url(#gR)" stroke="#000" stroke-width="1.3"/>
<text transform="translate(1026.30,245.70) scale(0.845,1)" font-size="22.2" text-anchor="start" fill="#000" stroke="#000" stroke-width="0.27">PC 1</text>
<rect x="948.6" y="257.6" width="68.4" height="19.6" fill="url(#gG)" stroke="#000" stroke-width="1.3"/>
<text transform="translate(1026.30,275.10) scale(0.845,1)" font-size="22.2" text-anchor="start" fill="#000" stroke="#000" stroke-width="0.27">PC 2</text>
<rect x="948.6" y="286.8" width="68.4" height="19.6" fill="url(#gB)" stroke="#000" stroke-width="1.3"/>
<text transform="translate(1026.30,304.30) scale(0.845,1)" font-size="22.2" text-anchor="start" fill="#000" stroke="#000" stroke-width="0.27">PC 3</text>
<path d="M619.5,265.3V276M619.5,270.5H680.5M680.5,265.3V276" stroke="#000" stroke-width="1.3" fill="none"/>
<text transform="translate(650.00,263.20) scale(0.88,1)" font-size="17.8" text-anchor="middle" fill="#000" stroke="#000" stroke-width="0.27">100 km</text>
<path d="M704.5,255.5L710.4,278.6L704.4,272L697.8,279Z" fill="#000"/>
<rect x="989.9" y="587.6" width="13.6" height="42.4" fill="url(#gC)" stroke="#000" stroke-width="1.3"/>
<text transform="translate(988.30,579.80) scale(0.8,1)" font-size="20.8" text-anchor="start" fill="#000" stroke="#000" stroke-width="0.27">° C</text>
<text transform="translate(1006.50,600.70) scale(0.84,1)" font-size="19" text-anchor="start" fill="#000" stroke="#000" stroke-width="0.27">18.5</text>
<text transform="translate(1006.50,630.20) scale(0.84,1)" font-size="19" text-anchor="start" fill="#000" stroke="#000" stroke-width="0.27">10</text>
<rect x="374.7" y="929.5" width="13.4" height="42" fill="url(#gD)" stroke="#000" stroke-width="1.3"/>
<text transform="translate(373.50,921.00) scale(0.85,1)" font-size="18.3" text-anchor="start" fill="#000" stroke="#000" stroke-width="0.27">mm</text>
<text transform="translate(391.00,942.00) scale(0.84,1)" font-size="19" text-anchor="start" fill="#000" stroke="#000" stroke-width="0.27">1800</text>
<text transform="translate(391.00,972.00) scale(0.84,1)" font-size="19" text-anchor="start" fill="#000" stroke="#000" stroke-width="0.27">1100</text>
<rect x="989.9" y="929.2" width="13.6" height="42.4" fill="url(#gE)" stroke="#000" stroke-width="1.3"/>
<text transform="translate(988.30,920.80) scale(0.8,1)" font-size="20.8" text-anchor="start" fill="#000" stroke="#000" stroke-width="0.27">° C</text>
<text transform="translate(1006.50,942.00) scale(0.84,1)" font-size="19" text-anchor="start" fill="#000" stroke="#000" stroke-width="0.27">14</text>
<text transform="translate(1006.50,972.00) scale(0.84,1)" font-size="19" text-anchor="start" fill="#000" stroke="#000" stroke-width="0.27">10</text>
</svg>
</body></html>
